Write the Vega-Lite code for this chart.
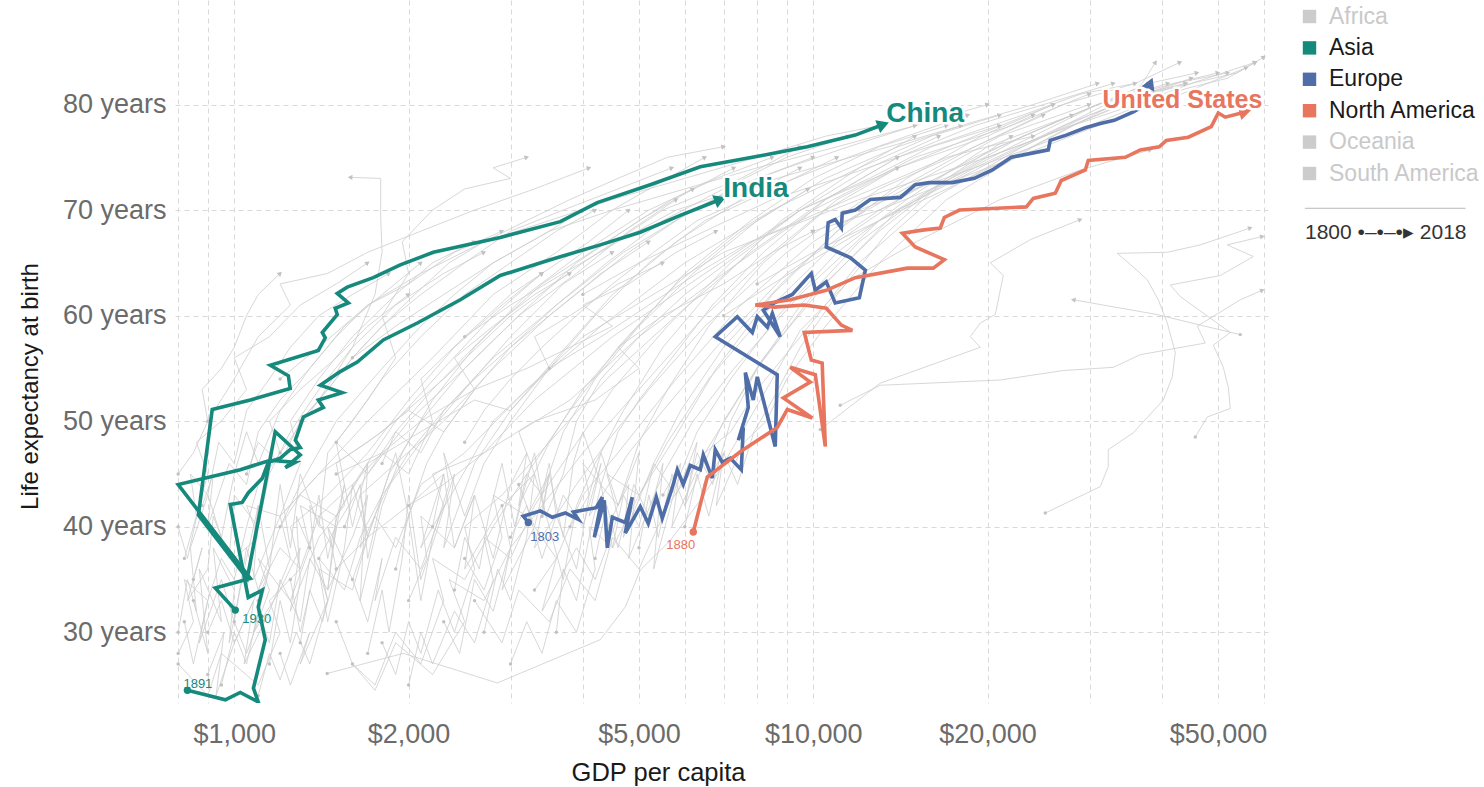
{
  "$schema": "https://vega.github.io/schema/vega-lite/v6.json",
  "width": 1093,
  "height": 703,
  "autosize": {"type": "none"},
  "padding": {"left": 175, "top": 0, "right": 216, "bottom": 84},
  "background": "white",
  "config": {
    "view": {"stroke": null},
    "font": "Liberation Sans",
    "axis": {
      "domain": false,
      "ticks": false,
      "grid": true,
      "gridColor": "#d9d9d9",
      "gridDash": [5, 4],
      "gridWidth": 1,
      "labelFont": "Liberation Sans",
      "labelFontSize": 27,
      "labelColor": "#6b6b6b",
      "titleFont": "Liberation Sans",
      "titleFontSize": 24,
      "titleFontWeight": "normal",
      "titleColor": "#1a1a1a"
    }
  },
  "title": {
    "text": "───────────────────",
    "subtitle": "1800 •–•–•▸ 2018",
    "orient": "top",
    "anchor": "start",
    "frame": "group",
    "font": "DejaVu Sans",
    "fontSize": 14,
    "fontWeight": "normal",
    "color": "#c8c8c8",
    "subtitleFont": "Liberation Sans",
    "subtitleFontSize": 21,
    "subtitleColor": "#333333",
    "subtitlePadding": 6,
    "offset": 0,
    "dx": 1130,
    "dy": 243
  },
  "resolve": {"legend": {"color": "independent"}},
  "datasets": {
    "gray": [
      {"country":"N1","year":1800,"gdp":820,"life":31},{"country":"N1","year":1810,"gdp":850,"life":27},{"country":"N1","year":1820,"gdp":900,"life":33},{"country":"N1","year":1830,"gdp":870,"life":29},{"country":"N1","year":1840,"gdp":950,"life":35},{"country":"N1","year":1850,"gdp":1000,"life":31},{"country":"N1","year":1860,"gdp":1050,"life":38},{"country":"N1","year":1870,"gdp":1100,"life":34},{"country":"N1","year":1880,"gdp":1200,"life":40},{"country":"N1","year":1890,"gdp":1300,"life":44},{"country":"N1","year":1900,"gdp":1500,"life":50},{"country":"N1","year":1910,"gdp":1800,"life":55},{"country":"N1","year":1920,"gdp":2100,"life":59},{"country":"N1","year":1930,"gdp":2400,"life":62},{"country":"N1","year":1940,"gdp":2800,"life":65},{"country":"N1","year":1950,"gdp":3500,"life":68},{"country":"N1","year":1960,"gdp":4000,"life":70},
      {"country":"N2","year":1800,"gdp":900,"life":26},{"country":"N2","year":1810,"gdp":960,"life":30},{"country":"N2","year":1820,"gdp":930,"life":24},{"country":"N2","year":1830,"gdp":1000,"life":29},{"country":"N2","year":1840,"gdp":1080,"life":33},{"country":"N2","year":1850,"gdp":1040,"life":27},{"country":"N2","year":1860,"gdp":1150,"life":32},{"country":"N2","year":1870,"gdp":1250,"life":37},{"country":"N2","year":1880,"gdp":1200,"life":41},{"country":"N2","year":1890,"gdp":1400,"life":45},{"country":"N2","year":1900,"gdp":1700,"life":50},{"country":"N2","year":1910,"gdp":2200,"life":56},{"country":"N2","year":1920,"gdp":2800,"life":62},{"country":"N2","year":1930,"gdp":3600,"life":66},{"country":"N2","year":1940,"gdp":4500,"life":70},{"country":"N2","year":1950,"gdp":5600,"life":73},{"country":"N2","year":1960,"gdp":6500,"life":75},
      {"country":"N3","year":1800,"gdp":1100,"life":33},{"country":"N3","year":1810,"gdp":1150,"life":36},{"country":"N3","year":1820,"gdp":1080,"life":30},{"country":"N3","year":1830,"gdp":1200,"life":34},{"country":"N3","year":1840,"gdp":1300,"life":38},{"country":"N3","year":1850,"gdp":1250,"life":32},{"country":"N3","year":1860,"gdp":1400,"life":39},{"country":"N3","year":1870,"gdp":1550,"life":42},{"country":"N3","year":1880,"gdp":1500,"life":46},{"country":"N3","year":1890,"gdp":1800,"life":49},{"country":"N3","year":1900,"gdp":2300,"life":54},{"country":"N3","year":1910,"gdp":3000,"life":60},{"country":"N3","year":1920,"gdp":4000,"life":65},{"country":"N3","year":1930,"gdp":5500,"life":70},{"country":"N3","year":1940,"gdp":7500,"life":73},{"country":"N3","year":1950,"gdp":9500,"life":76},
      {"country":"N4","year":1800,"gdp":1300,"life":29},{"country":"N4","year":1810,"gdp":1350,"life":34},{"country":"N4","year":1820,"gdp":1420,"life":31},{"country":"N4","year":1830,"gdp":1500,"life":36},{"country":"N4","year":1840,"gdp":1450,"life":40},{"country":"N4","year":1850,"gdp":1600,"life":35},{"country":"N4","year":1860,"gdp":1750,"life":41},{"country":"N4","year":1870,"gdp":1900,"life":38},{"country":"N4","year":1880,"gdp":2100,"life":44},{"country":"N4","year":1890,"gdp":2500,"life":47},{"country":"N4","year":1900,"gdp":3200,"life":53},{"country":"N4","year":1910,"gdp":4300,"life":59},{"country":"N4","year":1920,"gdp":6000,"life":65},{"country":"N4","year":1930,"gdp":8500,"life":70},{"country":"N4","year":1940,"gdp":12000,"life":74},{"country":"N4","year":1950,"gdp":15000,"life":77},
      {"country":"N5","year":1800,"gdp":1600,"life":35},{"country":"N5","year":1810,"gdp":1700,"life":31},{"country":"N5","year":1820,"gdp":1800,"life":37},{"country":"N5","year":1830,"gdp":1750,"life":33},{"country":"N5","year":1840,"gdp":1900,"life":39},{"country":"N5","year":1850,"gdp":2100,"life":36},{"country":"N5","year":1860,"gdp":2300,"life":42},{"country":"N5","year":1870,"gdp":2200,"life":45},{"country":"N5","year":1880,"gdp":2700,"life":47},{"country":"N5","year":1890,"gdp":3300,"life":52},{"country":"N5","year":1900,"gdp":4500,"life":58},{"country":"N5","year":1910,"gdp":6500,"life":64},{"country":"N5","year":1920,"gdp":9500,"life":70},{"country":"N5","year":1930,"gdp":14000,"life":74},{"country":"N5","year":1940,"gdp":20000,"life":77},{"country":"N5","year":1950,"gdp":24000,"life":79},
      {"country":"N6","year":1800,"gdp":2000,"life":33},{"country":"N6","year":1810,"gdp":2150,"life":37},{"country":"N6","year":1820,"gdp":2100,"life":41},{"country":"N6","year":1830,"gdp":2400,"life":38},{"country":"N6","year":1840,"gdp":2600,"life":43},{"country":"N6","year":1850,"gdp":2500,"life":36},{"country":"N6","year":1860,"gdp":2900,"life":42},{"country":"N6","year":1870,"gdp":3300,"life":45},{"country":"N6","year":1880,"gdp":3100,"life":49},{"country":"N6","year":1890,"gdp":3800,"life":52},{"country":"N6","year":1900,"gdp":5000,"life":58},{"country":"N6","year":1910,"gdp":7000,"life":64},{"country":"N6","year":1920,"gdp":10000,"life":70},{"country":"N6","year":1930,"gdp":15000,"life":75},{"country":"N6","year":1940,"gdp":22000,"life":78},{"country":"N6","year":1950,"gdp":30000,"life":81},
      {"country":"N7","year":1800,"gdp":2500,"life":37},{"country":"N7","year":1810,"gdp":2700,"life":34},{"country":"N7","year":1820,"gdp":2900,"life":39},{"country":"N7","year":1830,"gdp":2800,"life":43},{"country":"N7","year":1840,"gdp":3200,"life":41},{"country":"N7","year":1850,"gdp":3500,"life":45},{"country":"N7","year":1860,"gdp":3300,"life":38},{"country":"N7","year":1870,"gdp":3900,"life":44},{"country":"N7","year":1880,"gdp":4400,"life":48},{"country":"N7","year":1890,"gdp":5200,"life":53},{"country":"N7","year":1900,"gdp":6500,"life":59},{"country":"N7","year":1910,"gdp":9000,"life":66},{"country":"N7","year":1920,"gdp":13000,"life":72},{"country":"N7","year":1930,"gdp":19000,"life":76},{"country":"N7","year":1940,"gdp":27000,"life":80},{"country":"N7","year":1950,"gdp":36000,"life":82},
      {"country":"N8","year":1800,"gdp":3000,"life":39},{"country":"N8","year":1810,"gdp":3200,"life":42},{"country":"N8","year":1820,"gdp":3400,"life":37},{"country":"N8","year":1830,"gdp":3700,"life":43},{"country":"N8","year":1840,"gdp":4000,"life":40},{"country":"N8","year":1850,"gdp":4300,"life":46},{"country":"N8","year":1860,"gdp":4100,"life":41},{"country":"N8","year":1870,"gdp":4800,"life":47},{"country":"N8","year":1880,"gdp":5500,"life":51},{"country":"N8","year":1890,"gdp":6800,"life":57},{"country":"N8","year":1900,"gdp":9000,"life":64},{"country":"N8","year":1910,"gdp":13000,"life":70},{"country":"N8","year":1920,"gdp":19000,"life":75},{"country":"N8","year":1930,"gdp":28000,"life":79},{"country":"N8","year":1940,"gdp":38000,"life":82},{"country":"N8","year":1950,"gdp":46000,"life":83},
      {"country":"N9","year":1800,"gdp":3800,"life":40},{"country":"N9","year":1810,"gdp":4100,"life":43},{"country":"N9","year":1820,"gdp":4000,"life":46},{"country":"N9","year":1830,"gdp":4600,"life":42},{"country":"N9","year":1840,"gdp":5000,"life":47},{"country":"N9","year":1850,"gdp":4800,"life":37},{"country":"N9","year":1860,"gdp":5500,"life":45},{"country":"N9","year":1870,"gdp":6200,"life":50},{"country":"N9","year":1880,"gdp":7300,"life":55},{"country":"N9","year":1890,"gdp":9500,"life":62},{"country":"N9","year":1900,"gdp":13000,"life":69},{"country":"N9","year":1910,"gdp":19000,"life":74},{"country":"N9","year":1920,"gdp":27000,"life":78},{"country":"N9","year":1930,"gdp":37000,"life":81},{"country":"N9","year":1940,"gdp":44000,"life":82},
      {"country":"N10","year":1800,"gdp":4500,"life":41},{"country":"N10","year":1810,"gdp":4800,"life":44},{"country":"N10","year":1820,"gdp":4700,"life":39},{"country":"N10","year":1830,"gdp":5300,"life":46},{"country":"N10","year":1840,"gdp":5800,"life":43},{"country":"N10","year":1850,"gdp":6300,"life":48},{"country":"N10","year":1860,"gdp":6000,"life":42},{"country":"N10","year":1870,"gdp":7000,"life":50},{"country":"N10","year":1880,"gdp":8200,"life":56},{"country":"N10","year":1890,"gdp":10500,"life":63},{"country":"N10","year":1900,"gdp":14000,"life":70},{"country":"N10","year":1910,"gdp":21000,"life":75},{"country":"N10","year":1920,"gdp":30000,"life":79},{"country":"N10","year":1930,"gdp":42000,"life":82},{"country":"N10","year":1940,"gdp":52000,"life":83},
      {"country":"N11","year":1800,"gdp":5500,"life":43},{"country":"N11","year":1810,"gdp":5900,"life":46},{"country":"N11","year":1820,"gdp":5700,"life":40},{"country":"N11","year":1830,"gdp":6500,"life":47},{"country":"N11","year":1840,"gdp":7200,"life":49},{"country":"N11","year":1850,"gdp":8000,"life":53},{"country":"N11","year":1860,"gdp":9500,"life":58},{"country":"N11","year":1870,"gdp":12000,"life":65},{"country":"N11","year":1880,"gdp":16000,"life":71},{"country":"N11","year":1890,"gdp":23000,"life":76},{"country":"N11","year":1900,"gdp":32000,"life":80},{"country":"N11","year":1910,"gdp":45000,"life":82},{"country":"N11","year":1920,"gdp":58000,"life":84},
      {"country":"N12","year":1800,"gdp":850,"life":35},{"country":"N12","year":1810,"gdp":880,"life":38},{"country":"N12","year":1820,"gdp":830,"life":33},{"country":"N12","year":1830,"gdp":900,"life":36},{"country":"N12","year":1840,"gdp":920,"life":41},{"country":"N12","year":1850,"gdp":980,"life":37},{"country":"N12","year":1860,"gdp":1000,"life":43},{"country":"N12","year":1870,"gdp":1100,"life":40},{"country":"N12","year":1880,"gdp":1150,"life":45},{"country":"N12","year":1890,"gdp":1250,"life":49},{"country":"N12","year":1900,"gdp":1400,"life":53},{"country":"N12","year":1910,"gdp":1600,"life":57},{"country":"N12","year":1920,"gdp":1900,"life":61},{"country":"N12","year":1930,"gdp":2300,"life":64},{"country":"N12","year":1940,"gdp":2700,"life":66},
      {"country":"N13","year":1800,"gdp":800,"life":40},{"country":"N13","year":1810,"gdp":830,"life":37},{"country":"N13","year":1820,"gdp":870,"life":42},{"country":"N13","year":1830,"gdp":900,"life":45},{"country":"N13","year":1840,"gdp":860,"life":48},{"country":"N13","year":1850,"gdp":950,"life":50},{"country":"N13","year":1860,"gdp":1050,"life":53},{"country":"N13","year":1870,"gdp":1000,"life":56},{"country":"N13","year":1880,"gdp":1150,"life":58},{"country":"N13","year":1890,"gdp":1300,"life":61},{"country":"N13","year":1900,"gdp":1500,"life":63},{"country":"N13","year":1910,"gdp":1700,"life":65},
      {"country":"N14","year":1800,"gdp":1200,"life":28},{"country":"N14","year":1810,"gdp":1250,"life":25},{"country":"N14","year":1820,"gdp":1350,"life":30},{"country":"N14","year":1830,"gdp":1300,"life":27},{"country":"N14","year":1840,"gdp":1450,"life":33},{"country":"N14","year":1850,"gdp":1400,"life":36},{"country":"N14","year":1860,"gdp":1600,"life":34},{"country":"N14","year":1870,"gdp":1700,"life":39},{"country":"N14","year":1880,"gdp":1650,"life":43},{"country":"N14","year":1890,"gdp":1900,"life":46},{"country":"N14","year":1900,"gdp":2300,"life":50},{"country":"N14","year":1910,"gdp":2800,"life":55},{"country":"N14","year":1920,"gdp":3500,"life":60},{"country":"N14","year":1930,"gdp":4300,"life":64},{"country":"N14","year":1940,"gdp":5200,"life":67},
      {"country":"N15","year":1800,"gdp":1800,"life":29},{"country":"N15","year":1810,"gdp":1900,"life":26},{"country":"N15","year":1820,"gdp":2000,"life":31},{"country":"N15","year":1830,"gdp":2100,"life":28},{"country":"N15","year":1840,"gdp":2250,"life":34},{"country":"N15","year":1850,"gdp":2400,"life":30},{"country":"N15","year":1860,"gdp":2600,"life":36},{"country":"N15","year":1870,"gdp":2500,"life":40},{"country":"N15","year":1880,"gdp":2900,"life":43},{"country":"N15","year":1890,"gdp":3500,"life":48},{"country":"N15","year":1900,"gdp":4400,"life":54},{"country":"N15","year":1910,"gdp":5800,"life":60},{"country":"N15","year":1920,"gdp":7800,"life":66},{"country":"N15","year":1930,"gdp":10500,"life":71},{"country":"N15","year":1940,"gdp":14000,"life":75},
      {"country":"N16","year":1800,"gdp":2300,"life":31},{"country":"N16","year":1810,"gdp":2450,"life":28},{"country":"N16","year":1820,"gdp":2600,"life":35},{"country":"N16","year":1830,"gdp":2800,"life":32},{"country":"N16","year":1840,"gdp":3000,"life":38},{"country":"N16","year":1850,"gdp":2900,"life":34},{"country":"N16","year":1860,"gdp":3300,"life":40},{"country":"N16","year":1870,"gdp":3600,"life":37},{"country":"N16","year":1880,"gdp":4000,"life":43},{"country":"N16","year":1890,"gdp":4600,"life":47},{"country":"N16","year":1900,"gdp":5800,"life":54},{"country":"N16","year":1910,"gdp":7500,"life":61},{"country":"N16","year":1920,"gdp":10000,"life":67},{"country":"N16","year":1930,"gdp":14000,"life":72},{"country":"N16","year":1940,"gdp":19000,"life":76},{"country":"N16","year":1950,"gdp":25000,"life":79},
      {"country":"N17","year":1800,"gdp":1000,"life":31},{"country":"N17","year":1810,"gdp":1050,"life":28},{"country":"N17","year":1820,"gdp":1150,"life":34},{"country":"N17","year":1830,"gdp":1100,"life":37},{"country":"N17","year":1840,"gdp":1250,"life":33},{"country":"N17","year":1850,"gdp":1350,"life":38},{"country":"N17","year":1860,"gdp":1300,"life":42},{"country":"N17","year":1870,"gdp":1500,"life":40},{"country":"N17","year":1880,"gdp":1700,"life":45},{"country":"N17","year":1890,"gdp":2000,"life":50},{"country":"N17","year":1900,"gdp":2500,"life":55},{"country":"N17","year":1910,"gdp":3100,"life":60},{"country":"N17","year":1920,"gdp":3900,"life":64},{"country":"N17","year":1930,"gdp":4800,"life":68},{"country":"N17","year":1940,"gdp":5800,"life":71},
      {"country":"N18","year":1800,"gdp":1400,"life":37},{"country":"N18","year":1810,"gdp":1500,"life":40},{"country":"N18","year":1820,"gdp":1450,"life":34},{"country":"N18","year":1830,"gdp":1600,"life":39},{"country":"N18","year":1840,"gdp":1700,"life":43},{"country":"N18","year":1850,"gdp":1650,"life":38},{"country":"N18","year":1860,"gdp":1850,"life":44},{"country":"N18","year":1870,"gdp":2000,"life":47},{"country":"N18","year":1880,"gdp":2300,"life":51},{"country":"N18","year":1890,"gdp":2800,"life":56},{"country":"N18","year":1900,"gdp":3600,"life":61},{"country":"N18","year":1910,"gdp":4700,"life":66},{"country":"N18","year":1920,"gdp":6200,"life":70},{"country":"N18","year":1930,"gdp":8000,"life":73},{"country":"N18","year":1940,"gdp":10000,"life":75},
      {"country":"N19","year":1800,"gdp":3300,"life":34},{"country":"N19","year":1810,"gdp":3600,"life":37},{"country":"N19","year":1820,"gdp":3400,"life":32},{"country":"N19","year":1830,"gdp":3900,"life":38},{"country":"N19","year":1840,"gdp":4200,"life":35},{"country":"N19","year":1850,"gdp":4600,"life":41},{"country":"N19","year":1860,"gdp":4400,"life":45},{"country":"N19","year":1870,"gdp":5000,"life":43},{"country":"N19","year":1880,"gdp":5600,"life":48},{"country":"N19","year":1890,"gdp":6600,"life":54},{"country":"N19","year":1900,"gdp":8500,"life":61},{"country":"N19","year":1910,"gdp":11000,"life":67},{"country":"N19","year":1920,"gdp":15000,"life":72},{"country":"N19","year":1930,"gdp":21000,"life":76},{"country":"N19","year":1940,"gdp":28000,"life":79},
      {"country":"N20","year":1800,"gdp":6500,"life":44},{"country":"N20","year":1810,"gdp":7000,"life":47},{"country":"N20","year":1820,"gdp":6800,"life":42},{"country":"N20","year":1830,"gdp":7600,"life":48},{"country":"N20","year":1840,"gdp":8300,"life":50},{"country":"N20","year":1850,"gdp":9000,"life":54},{"country":"N20","year":1860,"gdp":10500,"life":59},{"country":"N20","year":1870,"gdp":13000,"life":65},{"country":"N20","year":1880,"gdp":17000,"life":71},{"country":"N20","year":1890,"gdp":24000,"life":76},{"country":"N20","year":1900,"gdp":33000,"life":80},{"country":"N20","year":1910,"gdp":44000,"life":82},
      {"country":"A1","year":1800,"gdp":800,"life":28},{"country":"A1","year":1810,"gdp":850,"life":31},{"country":"A1","year":1820,"gdp":820,"life":35},{"country":"A1","year":1830,"gdp":900,"life":33},{"country":"A1","year":1840,"gdp":950,"life":37},{"country":"A1","year":1850,"gdp":1000,"life":35},{"country":"A1","year":1860,"gdp":1050,"life":40},{"country":"A1","year":1870,"gdp":1100,"life":44},{"country":"A1","year":1880,"gdp":1200,"life":47},{"country":"A1","year":1890,"gdp":1150,"life":50},{"country":"A1","year":1900,"gdp":1300,"life":53},{"country":"A1","year":1910,"gdp":1500,"life":56},{"country":"A1","year":1920,"gdp":1700,"life":59},{"country":"A1","year":1930,"gdp":2000,"life":62},
      {"country":"A2","year":1800,"gdp":900,"life":30},{"country":"A2","year":1810,"gdp":950,"life":33},{"country":"A2","year":1820,"gdp":1000,"life":29},{"country":"A2","year":1830,"gdp":1100,"life":34},{"country":"A2","year":1840,"gdp":1200,"life":38},{"country":"A2","year":1850,"gdp":1300,"life":36},{"country":"A2","year":1860,"gdp":1400,"life":41},{"country":"A2","year":1870,"gdp":1600,"life":44},{"country":"A2","year":1880,"gdp":1800,"life":47},{"country":"A2","year":1890,"gdp":2000,"life":45},{"country":"A2","year":1900,"gdp":2200,"life":50},{"country":"A2","year":1910,"gdp":2100,"life":54},{"country":"A2","year":1920,"gdp":2500,"life":58},{"country":"A2","year":1930,"gdp":3000,"life":62},{"country":"A2","year":1940,"gdp":3400,"life":64},
      {"country":"A3","year":1800,"gdp":1000,"life":37},{"country":"A3","year":1810,"gdp":1100,"life":39},{"country":"A3","year":1820,"gdp":1050,"life":42},{"country":"A3","year":1830,"gdp":1200,"life":41},{"country":"A3","year":1840,"gdp":1400,"life":45},{"country":"A3","year":1850,"gdp":1700,"life":48},{"country":"A3","year":1860,"gdp":2000,"life":51},{"country":"A3","year":1870,"gdp":2300,"life":49},{"country":"A3","year":1880,"gdp":2600,"life":53},{"country":"A3","year":1890,"gdp":2400,"life":56},{"country":"A3","year":1900,"gdp":2800,"life":59},{"country":"A3","year":1910,"gdp":3300,"life":62},{"country":"A3","year":1920,"gdp":3800,"life":64},
      {"country":"A4","year":1800,"gdp":1200,"life":40},{"country":"A4","year":1810,"gdp":1300,"life":43},{"country":"A4","year":1820,"gdp":1500,"life":41},{"country":"A4","year":1830,"gdp":1700,"life":46},{"country":"A4","year":1840,"gdp":2100,"life":49},{"country":"A4","year":1850,"gdp":2600,"life":52},{"country":"A4","year":1860,"gdp":3000,"life":51},{"country":"A4","year":1870,"gdp":3500,"life":55},{"country":"A4","year":1880,"gdp":3300,"life":58},{"country":"A4","year":1890,"gdp":3800,"life":60},{"country":"A4","year":1900,"gdp":4600,"life":63},{"country":"A4","year":1910,"gdp":5500,"life":65},
      {"country":"A5","year":1800,"gdp":1500,"life":45},{"country":"A5","year":1810,"gdp":1800,"life":47},{"country":"A5","year":1820,"gdp":2100,"life":50},{"country":"A5","year":1830,"gdp":2600,"life":53},{"country":"A5","year":1840,"gdp":3200,"life":55},{"country":"A5","year":1850,"gdp":3800,"life":57},{"country":"A5","year":1860,"gdp":4500,"life":59},{"country":"A5","year":1870,"gdp":4000,"life":61},{"country":"A5","year":1880,"gdp":4800,"life":63},{"country":"A5","year":1890,"gdp":5800,"life":66},{"country":"A5","year":1900,"gdp":6800,"life":68},
      {"country":"A6","year":1800,"gdp":800,"life":45},{"country":"A6","year":1810,"gdp":850,"life":47},{"country":"A6","year":1820,"gdp":900,"life":50},{"country":"A6","year":1830,"gdp":880,"life":53},{"country":"A6","year":1840,"gdp":950,"life":55},{"country":"A6","year":1850,"gdp":1000,"life":57},{"country":"A6","year":1860,"gdp":1050,"life":60},{"country":"A6","year":1870,"gdp":1100,"life":62},{"country":"A6","year":1880,"gdp":1200,"life":64},
      {"country":"A7","year":1800,"gdp":2000,"life":42},{"country":"A7","year":1810,"gdp":2300,"life":44},{"country":"A7","year":1820,"gdp":2700,"life":47},{"country":"A7","year":1830,"gdp":3300,"life":50},{"country":"A7","year":1840,"gdp":4200,"life":52},{"country":"A7","year":1850,"gdp":5000,"life":55},{"country":"A7","year":1860,"gdp":4600,"life":57},{"country":"A7","year":1870,"gdp":5500,"life":60},{"country":"A7","year":1880,"gdp":7000,"life":63},{"country":"A7","year":1890,"gdp":8500,"life":66},{"country":"A7","year":1900,"gdp":10000,"life":68},
      {"country":"U1","year":1800,"gdp":900,"life":50},{"country":"U1","year":1810,"gdp":1000,"life":54},{"country":"U1","year":1820,"gdp":1100,"life":58},{"country":"U1","year":1830,"gdp":1250,"life":61},{"country":"U1","year":1840,"gdp":1200,"life":63},{"country":"U1","year":1850,"gdp":1450,"life":64},{"country":"U1","year":1860,"gdp":1700,"life":66},{"country":"U1","year":1870,"gdp":2100,"life":68},{"country":"U1","year":1880,"gdp":2600,"life":70},{"country":"U1","year":1890,"gdp":3300,"life":72},{"country":"U1","year":1900,"gdp":4100,"life":74},
      {"country":"U2","year":1800,"gdp":1200,"life":54},{"country":"U2","year":1810,"gdp":1400,"life":57},{"country":"U2","year":1820,"gdp":1700,"life":61},{"country":"U2","year":1830,"gdp":2100,"life":64},{"country":"U2","year":1840,"gdp":2700,"life":67},{"country":"U2","year":1850,"gdp":3500,"life":69},{"country":"U2","year":1860,"gdp":4500,"life":71},{"country":"U2","year":1870,"gdp":6000,"life":73},{"country":"U2","year":1880,"gdp":8000,"life":75},{"country":"U2","year":1890,"gdp":10500,"life":77},{"country":"U2","year":1900,"gdp":13000,"life":78},
      {"country":"U3","year":1800,"gdp":1600,"life":56},{"country":"U3","year":1810,"gdp":1900,"life":59},{"country":"U3","year":1820,"gdp":2300,"life":62},{"country":"U3","year":1830,"gdp":2800,"life":65},{"country":"U3","year":1840,"gdp":3500,"life":68},{"country":"U3","year":1850,"gdp":4500,"life":70},{"country":"U3","year":1860,"gdp":6000,"life":72},{"country":"U3","year":1870,"gdp":8000,"life":74},{"country":"U3","year":1880,"gdp":11000,"life":76},{"country":"U3","year":1890,"gdp":15000,"life":78},{"country":"U3","year":1900,"gdp":20000,"life":80},
      {"country":"U4","year":1800,"gdp":2500,"life":58},{"country":"U4","year":1810,"gdp":3000,"life":61},{"country":"U4","year":1820,"gdp":3700,"life":64},{"country":"U4","year":1830,"gdp":4600,"life":67},{"country":"U4","year":1840,"gdp":5800,"life":70},{"country":"U4","year":1850,"gdp":7500,"life":72},{"country":"U4","year":1860,"gdp":10000,"life":74},{"country":"U4","year":1870,"gdp":13500,"life":76},{"country":"U4","year":1880,"gdp":18000,"life":78},{"country":"U4","year":1890,"gdp":24000,"life":80},{"country":"U4","year":1900,"gdp":31000,"life":82},
      {"country":"U5","year":1800,"gdp":1500,"life":48},{"country":"U5","year":1810,"gdp":1700,"life":52},{"country":"U5","year":1820,"gdp":1900,"life":56},{"country":"U5","year":1830,"gdp":1800,"life":60},{"country":"U5","year":1840,"gdp":2000,"life":64},{"country":"U5","year":1850,"gdp":1950,"life":67},{"country":"U5","year":1860,"gdp":2200,"life":70},{"country":"U5","year":1870,"gdp":2500,"life":72},{"country":"U5","year":1880,"gdp":3000,"life":73},{"country":"U5","year":1890,"gdp":2800,"life":74},{"country":"U5","year":1900,"gdp":3200,"life":75},
      {"country":"C1","year":1800,"gdp":1200,"life":47},{"country":"C1","year":1810,"gdp":1400,"life":52},{"country":"C1","year":1820,"gdp":1600,"life":57},{"country":"C1","year":1830,"gdp":1750,"life":62},{"country":"C1","year":1840,"gdp":1800,"life":66},{"country":"C1","year":1850,"gdp":1790,"life":69.3},{"country":"C1","year":1860,"gdp":1790,"life":73},{"country":"C1","year":1870,"gdp":1585,"life":73.1},
      {"country":"U6","year":1800,"gdp":4000,"life":62},{"country":"U6","year":1810,"gdp":5000,"life":65},{"country":"U6","year":1820,"gdp":6500,"life":68},{"country":"U6","year":1830,"gdp":8500,"life":71},{"country":"U6","year":1840,"gdp":11000,"life":73},{"country":"U6","year":1850,"gdp":14000,"life":75},{"country":"U6","year":1860,"gdp":18000,"life":77},{"country":"U6","year":1870,"gdp":23000,"life":79},{"country":"U6","year":1880,"gdp":29000,"life":81},{"country":"U6","year":1890,"gdp":36000,"life":82},{"country":"U6","year":1900,"gdp":43000,"life":84},
      {"country":"U7","year":1800,"gdp":3500,"life":55},{"country":"U7","year":1810,"gdp":4300,"life":58},{"country":"U7","year":1820,"gdp":5200,"life":61},{"country":"U7","year":1830,"gdp":6300,"life":64},{"country":"U7","year":1840,"gdp":7800,"life":67},{"country":"U7","year":1850,"gdp":9500,"life":69},{"country":"U7","year":1860,"gdp":11500,"life":71},{"country":"U7","year":1870,"gdp":14000,"life":73},{"country":"U7","year":1880,"gdp":17000,"life":75},{"country":"U7","year":1890,"gdp":20000,"life":76},{"country":"U7","year":1900,"gdp":24000,"life":77},
      {"country":"H1","year":1800,"gdp":8000,"life":63},{"country":"H1","year":1810,"gdp":10000,"life":66},{"country":"H1","year":1820,"gdp":13000,"life":69},{"country":"H1","year":1830,"gdp":17000,"life":72},{"country":"H1","year":1840,"gdp":22000,"life":75},{"country":"H1","year":1850,"gdp":28000,"life":78},{"country":"H1","year":1860,"gdp":36000,"life":80},{"country":"H1","year":1870,"gdp":45000,"life":82},{"country":"H1","year":1880,"gdp":54000,"life":83},{"country":"H1","year":1890,"gdp":60000,"life":84.5},
      {"country":"H2","year":1800,"gdp":10000,"life":68},{"country":"H2","year":1810,"gdp":13000,"life":70},{"country":"H2","year":1820,"gdp":16000,"life":72},{"country":"H2","year":1830,"gdp":20000,"life":74},{"country":"H2","year":1840,"gdp":25000,"life":76},{"country":"H2","year":1850,"gdp":31000,"life":78},{"country":"H2","year":1860,"gdp":39000,"life":80},{"country":"H2","year":1870,"gdp":48000,"life":82},{"country":"H2","year":1880,"gdp":56000,"life":83.5},
      {"country":"H3","year":1800,"gdp":7000,"life":60},{"country":"H3","year":1810,"gdp":8500,"life":63},{"country":"H3","year":1820,"gdp":10500,"life":66},{"country":"H3","year":1830,"gdp":13000,"life":69},{"country":"H3","year":1840,"gdp":16000,"life":72},{"country":"H3","year":1850,"gdp":20000,"life":75},{"country":"H3","year":1860,"gdp":25000,"life":77},{"country":"H3","year":1870,"gdp":31000,"life":79},{"country":"H3","year":1880,"gdp":38000,"life":81},{"country":"H3","year":1890,"gdp":45000,"life":82.5},
      {"country":"H4","year":1800,"gdp":12000,"life":70},{"country":"H4","year":1810,"gdp":15000,"life":72},{"country":"H4","year":1820,"gdp":19000,"life":74},{"country":"H4","year":1830,"gdp":24000,"life":76},{"country":"H4","year":1840,"gdp":30000,"life":78},{"country":"H4","year":1850,"gdp":37000,"life":80},{"country":"H4","year":1860,"gdp":44000,"life":81.5},{"country":"H4","year":1870,"gdp":52000,"life":82.5},{"country":"H4","year":1880,"gdp":58000,"life":84},
      {"country":"H5","year":1800,"gdp":1500,"life":36},{"country":"H5","year":1810,"gdp":1700,"life":39},{"country":"H5","year":1820,"gdp":2000,"life":42},{"country":"H5","year":1830,"gdp":2300,"life":45},{"country":"H5","year":1840,"gdp":2100,"life":38},{"country":"H5","year":1850,"gdp":2800,"life":50},{"country":"H5","year":1860,"gdp":4000,"life":58},{"country":"H5","year":1870,"gdp":7000,"life":66},{"country":"H5","year":1880,"gdp":12000,"life":71},{"country":"H5","year":1890,"gdp":20000,"life":75},{"country":"H5","year":1900,"gdp":28000,"life":78},{"country":"H5","year":1910,"gdp":34000,"life":80},{"country":"H5","year":1920,"gdp":37000,"life":82},{"country":"H5","year":1930,"gdp":39000,"life":84},
      {"country":"R1","year":1800,"gdp":25160,"life":41.3},{"country":"R1","year":1810,"gdp":27460,"life":42.3},{"country":"R1","year":1820,"gdp":31310,"life":43.8},{"country":"R1","year":1830,"gdp":32320,"life":45.7},{"country":"R1","year":1840,"gdp":32320,"life":47.3},{"country":"R1","year":1850,"gdp":35700,"life":48.9},{"country":"R1","year":1860,"gdp":40220,"life":52.0},{"country":"R1","year":1870,"gdp":41690,"life":54.2},{"country":"R1","year":1880,"gdp":42190,"life":56.5},{"country":"R1","year":1890,"gdp":40870,"life":59.3},{"country":"R1","year":1900,"gdp":39430,"life":61.5},{"country":"R1","year":1910,"gdp":37740,"life":63.4},{"country":"R1","year":1920,"gdp":35700,"life":64.6},{"country":"R1","year":1930,"gdp":33500,"life":65.9},{"country":"R1","year":1940,"gdp":40870,"life":66.0},{"country":"R1","year":1950,"gdp":46610,"life":66.7},{"country":"R1","year":1960,"gdp":56860,"life":68.3},
      {"country":"R2","year":1800,"gdp":45680,"life":48.5},{"country":"R2","year":1810,"gdp":47910,"life":50.4},{"country":"R2","year":1820,"gdp":52510,"life":51.2},{"country":"R2","year":1830,"gdp":52100,"life":53.2},{"country":"R2","year":1840,"gdp":51070,"life":55.1},{"country":"R2","year":1850,"gdp":49080,"life":57.2},{"country":"R2","year":1860,"gdp":52510,"life":58.4},{"country":"R2","year":1870,"gdp":43040,"life":61.8},{"country":"R2","year":1880,"gdp":41360,"life":62.9},{"country":"R2","year":1890,"gdp":50470,"life":63.8},{"country":"R2","year":1900,"gdp":57540,"life":65.6},{"country":"R2","year":1910,"gdp":51880,"life":66.7},{"country":"R2","year":1920,"gdp":59640,"life":67.5},
      {"country":"R3","year":1800,"gdp":11130,"life":51.5},{"country":"R3","year":1810,"gdp":13050,"life":53.4},{"country":"R3","year":1820,"gdp":21030,"life":53.9},{"country":"R3","year":1830,"gdp":27030,"life":54.8},{"country":"R3","year":1840,"gdp":32970,"life":55.1},{"country":"R3","year":1850,"gdp":36710,"life":56.3},{"country":"R3","year":1860,"gdp":47530,"life":57.4},{"country":"R3","year":1870,"gdp":46050,"life":59.0},{"country":"R3","year":1880,"gdp":54630,"life":61.5},{"country":"R3","year":1890,"gdp":59640,"life":62.4},
      {"country":"R4","year":1800,"gdp":54630,"life":58.2},{"country":"R4","year":1810,"gdp":46610,"life":59.1},{"country":"R4","year":1820,"gdp":39270,"life":60.1},{"country":"R4","year":1830,"gdp":28120,"life":61.5},
      {"country":"R5","year":1800,"gdp":10280,"life":49.2},{"country":"R5","year":1810,"gdp":13050,"life":53.6},{"country":"R5","year":1820,"gdp":19430,"life":57.0},{"country":"R5","year":1830,"gdp":18670,"life":58.0},{"country":"R5","year":1840,"gdp":19430,"life":59.3},{"country":"R5","year":1850,"gdp":20620,"life":60.1},{"country":"R5","year":1860,"gdp":21290,"life":63.8},{"country":"R5","year":1870,"gdp":20220,"life":65.0},{"country":"R5","year":1880,"gdp":23710,"life":67.2},{"country":"R5","year":1890,"gdp":28920,"life":69.1},
      {"country":"B1","year":1800,"gdp":1447,"life":26.1},{"country":"B1","year":1810,"gdp":1958,"life":28.0},{"country":"B1","year":1820,"gdp":2846,"life":25.2},{"country":"B1","year":1830,"gdp":4287,"life":29.3},{"country":"B1","year":1840,"gdp":4735,"life":32.4},{"country":"B1","year":1850,"gdp":5026,"life":35.9},{"country":"B1","year":1860,"gdp":5663,"life":38.7},{"country":"B1","year":1870,"gdp":6380,"life":42.5},{"country":"B1","year":1880,"gdp":6908,"life":45.4},{"country":"B1","year":1890,"gdp":8101,"life":52.0},{"country":"B1","year":1900,"gdp":9496,"life":58.6},{"country":"B1","year":1910,"gdp":11580,"life":63.4},{"country":"B1","year":1920,"gdp":15310,"life":67.2},{"country":"B1","year":1930,"gdp":21030,"life":71.0},{"country":"B1","year":1940,"gdp":28920,"life":73.8},{"country":"B1","year":1950,"gdp":38200,"life":75.7},
      {"country":"B2","year":1800,"gdp":800,"life":27},{"country":"B2","year":1810,"gdp":900,"life":24},{"country":"B2","year":1820,"gdp":950,"life":28},{"country":"B2","year":1830,"gdp":1100,"life":25},{"country":"B2","year":1840,"gdp":1200,"life":30},{"country":"B2","year":1850,"gdp":1150,"life":33},{"country":"B2","year":1860,"gdp":1300,"life":36},{"country":"B2","year":1870,"gdp":1250,"life":40},{"country":"B2","year":1880,"gdp":1450,"life":43},{"country":"B2","year":1890,"gdp":1700,"life":47},{"country":"B2","year":1900,"gdp":2000,"life":52},{"country":"B2","year":1910,"gdp":2400,"life":57},{"country":"B2","year":1920,"gdp":2900,"life":61},{"country":"B2","year":1930,"gdp":3400,"life":64},
      {"country":"B3","year":1800,"gdp":1600,"life":27},{"country":"B3","year":1810,"gdp":1750,"life":24.5},{"country":"B3","year":1820,"gdp":1900,"life":29},{"country":"B3","year":1830,"gdp":2200,"life":26},{"country":"B3","year":1840,"gdp":2500,"life":31},{"country":"B3","year":1850,"gdp":2350,"life":35},{"country":"B3","year":1860,"gdp":2700,"life":33},{"country":"B3","year":1870,"gdp":3000,"life":38},{"country":"B3","year":1880,"gdp":3400,"life":42},{"country":"B3","year":1890,"gdp":4000,"life":47},{"country":"B3","year":1900,"gdp":5000,"life":53},{"country":"B3","year":1910,"gdp":6500,"life":60},{"country":"B3","year":1920,"gdp":8500,"life":66},{"country":"B3","year":1930,"gdp":11000,"life":71},{"country":"B3","year":1940,"gdp":14000,"life":74},
      {"country":"B4","year":1800,"gdp":2600,"life":33},{"country":"B4","year":1810,"gdp":2900,"life":29},{"country":"B4","year":1820,"gdp":3100,"life":34},{"country":"B4","year":1830,"gdp":3500,"life":31},{"country":"B4","year":1840,"gdp":3800,"life":36},{"country":"B4","year":1850,"gdp":4200,"life":33},{"country":"B4","year":1860,"gdp":4500,"life":39},{"country":"B4","year":1870,"gdp":5000,"life":36},{"country":"B4","year":1880,"gdp":5600,"life":42},{"country":"B4","year":1890,"gdp":6500,"life":47},{"country":"B4","year":1900,"gdp":8000,"life":55},{"country":"B4","year":1910,"gdp":10000,"life":62},{"country":"B4","year":1920,"gdp":13000,"life":68},{"country":"B4","year":1930,"gdp":17000,"life":73},{"country":"B4","year":1940,"gdp":22000,"life":77},
      {"country":"M1","year":1800,"gdp":850,"life":33},{"country":"M1","year":1810,"gdp":900,"life":28},{"country":"M1","year":1820,"gdp":870,"life":36},{"country":"M1","year":1830,"gdp":950,"life":31},{"country":"M1","year":1840,"gdp":920,"life":38},{"country":"M1","year":1850,"gdp":1000,"life":34},{"country":"M1","year":1860,"gdp":980,"life":29},{"country":"M1","year":1870,"gdp":1050,"life":37},{"country":"M1","year":1880,"gdp":1100,"life":42},{"country":"M1","year":1890,"gdp":1080,"life":35},{"country":"M1","year":1900,"gdp":1200,"life":41},{"country":"M1","year":1910,"gdp":1300,"life":46},{"country":"M1","year":1920,"gdp":1250,"life":50},{"country":"M1","year":1930,"gdp":1400,"life":54},{"country":"M1","year":1940,"gdp":1600,"life":58},{"country":"M1","year":1950,"gdp":1900,"life":62},{"country":"M1","year":1960,"gdp":2200,"life":65},{"country":"M1","year":1970,"gdp":2600,"life":67},
      {"country":"M2","year":1800,"gdp":1000,"life":40},{"country":"M2","year":1810,"gdp":1050,"life":34},{"country":"M2","year":1820,"gdp":1100,"life":42},{"country":"M2","year":1830,"gdp":1150,"life":36},{"country":"M2","year":1840,"gdp":1200,"life":44},{"country":"M2","year":1850,"gdp":1250,"life":38},{"country":"M2","year":1860,"gdp":1300,"life":45},{"country":"M2","year":1870,"gdp":1400,"life":40},{"country":"M2","year":1880,"gdp":1450,"life":47},{"country":"M2","year":1890,"gdp":1600,"life":50},{"country":"M2","year":1900,"gdp":1800,"life":54},{"country":"M2","year":1910,"gdp":2100,"life":58},{"country":"M2","year":1920,"gdp":2500,"life":62},{"country":"M2","year":1930,"gdp":3000,"life":65},{"country":"M2","year":1940,"gdp":3600,"life":68},{"country":"M2","year":1950,"gdp":4200,"life":70},
      {"country":"M3","year":1800,"gdp":1150,"life":27},{"country":"M3","year":1810,"gdp":1200,"life":33},{"country":"M3","year":1820,"gdp":1250,"life":29},{"country":"M3","year":1830,"gdp":1300,"life":35},{"country":"M3","year":1840,"gdp":1280,"life":41},{"country":"M3","year":1850,"gdp":1400,"life":36},{"country":"M3","year":1860,"gdp":1450,"life":31},{"country":"M3","year":1870,"gdp":1550,"life":38},{"country":"M3","year":1880,"gdp":1600,"life":44},{"country":"M3","year":1890,"gdp":1700,"life":39},{"country":"M3","year":1900,"gdp":1850,"life":45},{"country":"M3","year":1910,"gdp":2100,"life":50},{"country":"M3","year":1920,"gdp":2500,"life":55},{"country":"M3","year":1930,"gdp":3100,"life":60},{"country":"M3","year":1940,"gdp":3900,"life":65},{"country":"M3","year":1950,"gdp":5000,"life":69},{"country":"M3","year":1960,"gdp":6200,"life":72},
      {"country":"M4","year":1800,"gdp":1350,"life":38},{"country":"M4","year":1810,"gdp":1400,"life":43},{"country":"M4","year":1820,"gdp":1450,"life":37},{"country":"M4","year":1830,"gdp":1550,"life":44},{"country":"M4","year":1840,"gdp":1600,"life":40},{"country":"M4","year":1850,"gdp":1700,"life":46},{"country":"M4","year":1860,"gdp":1650,"life":33},{"country":"M4","year":1870,"gdp":1800,"life":42},{"country":"M4","year":1880,"gdp":1950,"life":47},{"country":"M4","year":1890,"gdp":2200,"life":52},{"country":"M4","year":1900,"gdp":2600,"life":57},{"country":"M4","year":1910,"gdp":3200,"life":62},{"country":"M4","year":1920,"gdp":4000,"life":66},{"country":"M4","year":1930,"gdp":5200,"life":70},{"country":"M4","year":1940,"gdp":6800,"life":73},{"country":"M4","year":1950,"gdp":8500,"life":75},
      {"country":"M5","year":1800,"gdp":1700,"life":28},{"country":"M5","year":1810,"gdp":1800,"life":34},{"country":"M5","year":1820,"gdp":1850,"life":30},{"country":"M5","year":1830,"gdp":1950,"life":37},{"country":"M5","year":1840,"gdp":2000,"life":43},{"country":"M5","year":1850,"gdp":2100,"life":35},{"country":"M5","year":1860,"gdp":2250,"life":40},{"country":"M5","year":1870,"gdp":2400,"life":45},{"country":"M5","year":1880,"gdp":2300,"life":38},{"country":"M5","year":1890,"gdp":2600,"life":46},{"country":"M5","year":1900,"gdp":3000,"life":51},{"country":"M5","year":1910,"gdp":3600,"life":56},{"country":"M5","year":1920,"gdp":4500,"life":62},{"country":"M5","year":1930,"gdp":5800,"life":67},{"country":"M5","year":1940,"gdp":7500,"life":71},{"country":"M5","year":1950,"gdp":9500,"life":74},
      {"country":"M6","year":1800,"gdp":1900,"life":36},{"country":"M6","year":1810,"gdp":2000,"life":41},{"country":"M6","year":1820,"gdp":2100,"life":33},{"country":"M6","year":1830,"gdp":2200,"life":39},{"country":"M6","year":1840,"gdp":2350,"life":44},{"country":"M6","year":1850,"gdp":2300,"life":47},{"country":"M6","year":1860,"gdp":2500,"life":41},{"country":"M6","year":1870,"gdp":2700,"life":46},{"country":"M6","year":1880,"gdp":3000,"life":50},{"country":"M6","year":1890,"gdp":3500,"life":55},{"country":"M6","year":1900,"gdp":4200,"life":60},{"country":"M6","year":1910,"gdp":5200,"life":65},{"country":"M6","year":1920,"gdp":6500,"life":69},{"country":"M6","year":1930,"gdp":8500,"life":72},{"country":"M6","year":1940,"gdp":11000,"life":75},
      {"country":"M7","year":1800,"gdp":2200,"life":40},{"country":"M7","year":1810,"gdp":2300,"life":45},{"country":"M7","year":1820,"gdp":2400,"life":38},{"country":"M7","year":1830,"gdp":2600,"life":43},{"country":"M7","year":1840,"gdp":2800,"life":37},{"country":"M7","year":1850,"gdp":3000,"life":44},{"country":"M7","year":1860,"gdp":3200,"life":47},{"country":"M7","year":1870,"gdp":3100,"life":42},{"country":"M7","year":1880,"gdp":3500,"life":48},{"country":"M7","year":1890,"gdp":4000,"life":53},{"country":"M7","year":1900,"gdp":4800,"life":58},{"country":"M7","year":1910,"gdp":6000,"life":64},{"country":"M7","year":1920,"gdp":7800,"life":69},{"country":"M7","year":1930,"gdp":10000,"life":73},{"country":"M7","year":1940,"gdp":13000,"life":76},{"country":"M7","year":1950,"gdp":17000,"life":78},
      {"country":"M8","year":1800,"gdp":2700,"life":30},{"country":"M8","year":1810,"gdp":2850,"life":36},{"country":"M8","year":1820,"gdp":3000,"life":33},{"country":"M8","year":1830,"gdp":3200,"life":39},{"country":"M8","year":1840,"gdp":3300,"life":45},{"country":"M8","year":1850,"gdp":3500,"life":40},{"country":"M8","year":1860,"gdp":3700,"life":35},{"country":"M8","year":1870,"gdp":3900,"life":42},{"country":"M8","year":1880,"gdp":4200,"life":46},{"country":"M8","year":1890,"gdp":4700,"life":51},{"country":"M8","year":1900,"gdp":5500,"life":57},{"country":"M8","year":1910,"gdp":6800,"life":63},{"country":"M8","year":1920,"gdp":8800,"life":69},{"country":"M8","year":1930,"gdp":12000,"life":74},{"country":"M8","year":1940,"gdp":16000,"life":77},{"country":"M8","year":1950,"gdp":21000,"life":79},
      {"country":"M9","year":1800,"gdp":3100,"life":44},{"country":"M9","year":1810,"gdp":3300,"life":40},{"country":"M9","year":1820,"gdp":3500,"life":46},{"country":"M9","year":1830,"gdp":3600,"life":41},{"country":"M9","year":1840,"gdp":3900,"life":36},{"country":"M9","year":1850,"gdp":4100,"life":43},{"country":"M9","year":1860,"gdp":4300,"life":47},{"country":"M9","year":1870,"gdp":4600,"life":42},{"country":"M9","year":1880,"gdp":5000,"life":48},{"country":"M9","year":1890,"gdp":5600,"life":53},{"country":"M9","year":1900,"gdp":6600,"life":59},{"country":"M9","year":1910,"gdp":8200,"life":65},{"country":"M9","year":1920,"gdp":10500,"life":70},{"country":"M9","year":1930,"gdp":14000,"life":74},{"country":"M9","year":1940,"gdp":19000,"life":77},{"country":"M9","year":1950,"gdp":26000,"life":80},
      {"country":"M10","year":1800,"gdp":3600,"life":30},{"country":"M10","year":1810,"gdp":3700,"life":36},{"country":"M10","year":1820,"gdp":3900,"life":33},{"country":"M10","year":1830,"gdp":4100,"life":39},{"country":"M10","year":1840,"gdp":4300,"life":44},{"country":"M10","year":1850,"gdp":4500,"life":38},{"country":"M10","year":1860,"gdp":4700,"life":43},{"country":"M10","year":1870,"gdp":5000,"life":40},{"country":"M10","year":1880,"gdp":5300,"life":46},{"country":"M10","year":1890,"gdp":5900,"life":51},{"country":"M10","year":1900,"gdp":7000,"life":57},{"country":"M10","year":1910,"gdp":8800,"life":63},{"country":"M10","year":1920,"gdp":11500,"life":69},{"country":"M10","year":1930,"gdp":15500,"life":73},{"country":"M10","year":1940,"gdp":21000,"life":77},{"country":"M10","year":1950,"gdp":30000,"life":80},
      {"country":"M11","year":1800,"gdp":4200,"life":37},{"country":"M11","year":1810,"gdp":4400,"life":42},{"country":"M11","year":1820,"gdp":4600,"life":38},{"country":"M11","year":1830,"gdp":4900,"life":44},{"country":"M11","year":1840,"gdp":5200,"life":41},{"country":"M11","year":1850,"gdp":5500,"life":46},{"country":"M11","year":1860,"gdp":5300,"life":36},{"country":"M11","year":1870,"gdp":5800,"life":44},{"country":"M11","year":1880,"gdp":6300,"life":49},{"country":"M11","year":1890,"gdp":7200,"life":54},{"country":"M11","year":1900,"gdp":8700,"life":60},{"country":"M11","year":1910,"gdp":11000,"life":66},{"country":"M11","year":1920,"gdp":14500,"life":71},{"country":"M11","year":1930,"gdp":20000,"life":76},{"country":"M11","year":1940,"gdp":28000,"life":79},{"country":"M11","year":1950,"gdp":38000,"life":82},
      {"country":"M12","year":1800,"gdp":800,"life":30},{"country":"M12","year":1810,"gdp":830,"life":35},{"country":"M12","year":1820,"gdp":860,"life":32},{"country":"M12","year":1830,"gdp":840,"life":38},{"country":"M12","year":1840,"gdp":900,"life":43},{"country":"M12","year":1850,"gdp":950,"life":39},{"country":"M12","year":1860,"gdp":1000,"life":45},{"country":"M12","year":1870,"gdp":1050,"life":49},{"country":"M12","year":1880,"gdp":1100,"life":46},{"country":"M12","year":1890,"gdp":1200,"life":51},{"country":"M12","year":1900,"gdp":1350,"life":55},{"country":"M12","year":1910,"gdp":1550,"life":59},{"country":"M12","year":1920,"gdp":1800,"life":62},{"country":"M12","year":1930,"gdp":2100,"life":65},
      {"country":"M13","year":1800,"gdp":950,"life":25},{"country":"M13","year":1810,"gdp":1000,"life":30},{"country":"M13","year":1820,"gdp":1050,"life":27},{"country":"M13","year":1830,"gdp":1100,"life":32},{"country":"M13","year":1840,"gdp":1150,"life":29},{"country":"M13","year":1850,"gdp":1200,"life":35},{"country":"M13","year":1860,"gdp":1300,"life":31},{"country":"M13","year":1870,"gdp":1350,"life":37},{"country":"M13","year":1880,"gdp":1450,"life":34},{"country":"M13","year":1890,"gdp":1500,"life":41},{"country":"M13","year":1900,"gdp":1650,"life":45},{"country":"M13","year":1910,"gdp":1900,"life":50},{"country":"M13","year":1920,"gdp":2300,"life":55},{"country":"M13","year":1930,"gdp":2800,"life":60},{"country":"M13","year":1940,"gdp":3400,"life":64},{"country":"M13","year":1950,"gdp":4100,"life":67},{"country":"M13","year":1960,"gdp":4800,"life":70},
      {"country":"M14","year":1800,"gdp":1250,"life":35},{"country":"M14","year":1810,"gdp":1300,"life":30},{"country":"M14","year":1820,"gdp":1380,"life":36},{"country":"M14","year":1830,"gdp":1350,"life":42},{"country":"M14","year":1840,"gdp":1480,"life":38},{"country":"M14","year":1850,"gdp":1550,"life":44},{"country":"M14","year":1860,"gdp":1500,"life":48},{"country":"M14","year":1870,"gdp":1700,"life":45},{"country":"M14","year":1880,"gdp":1900,"life":49},{"country":"M14","year":1890,"gdp":2200,"life":53},{"country":"M14","year":1900,"gdp":2700,"life":58},{"country":"M14","year":1910,"gdp":3400,"life":63},{"country":"M14","year":1920,"gdp":4400,"life":67},{"country":"M14","year":1930,"gdp":5700,"life":71},{"country":"M14","year":1940,"gdp":7300,"life":74},
      {"country":"M15","year":1800,"gdp":1550,"life":40},{"country":"M15","year":1810,"gdp":1650,"life":44},{"country":"M15","year":1820,"gdp":1700,"life":37},{"country":"M15","year":1830,"gdp":1800,"life":43},{"country":"M15","year":1840,"gdp":1900,"life":47},{"country":"M15","year":1850,"gdp":2000,"life":41},{"country":"M15","year":1860,"gdp":2150,"life":46},{"country":"M15","year":1870,"gdp":2300,"life":49},{"country":"M15","year":1880,"gdp":2600,"life":53},{"country":"M15","year":1890,"gdp":3000,"life":57},{"country":"M15","year":1900,"gdp":3600,"life":61},{"country":"M15","year":1910,"gdp":4400,"life":65},{"country":"M15","year":1920,"gdp":5500,"life":69},{"country":"M15","year":1930,"gdp":7000,"life":72},{"country":"M15","year":1940,"gdp":9000,"life":75},{"country":"M15","year":1950,"gdp":11500,"life":77},
      {"country":"M16","year":1800,"gdp":2400,"life":34},{"country":"M16","year":1810,"gdp":2500,"life":39},{"country":"M16","year":1820,"gdp":2650,"life":36},{"country":"M16","year":1830,"gdp":2750,"life":41},{"country":"M16","year":1840,"gdp":2900,"life":46},{"country":"M16","year":1850,"gdp":3050,"life":40},{"country":"M16","year":1860,"gdp":3200,"life":45},{"country":"M16","year":1870,"gdp":3400,"life":43},{"country":"M16","year":1880,"gdp":3700,"life":49},{"country":"M16","year":1890,"gdp":4200,"life":54},{"country":"M16","year":1900,"gdp":5000,"life":59},{"country":"M16","year":1910,"gdp":6200,"life":64},{"country":"M16","year":1920,"gdp":8000,"life":69},{"country":"M16","year":1930,"gdp":10500,"life":73},{"country":"M16","year":1940,"gdp":14000,"life":76},{"country":"M16","year":1950,"gdp":18000,"life":78},
      {"country":"M17","year":1800,"gdp":2900,"life":42},{"country":"M17","year":1810,"gdp":3000,"life":38},{"country":"M17","year":1820,"gdp":3150,"life":43},{"country":"M17","year":1830,"gdp":3300,"life":47},{"country":"M17","year":1840,"gdp":3450,"life":41},{"country":"M17","year":1850,"gdp":3700,"life":45},{"country":"M17","year":1860,"gdp":3900,"life":50},{"country":"M17","year":1870,"gdp":4300,"life":54},{"country":"M17","year":1880,"gdp":5000,"life":58},{"country":"M17","year":1890,"gdp":6000,"life":62},{"country":"M17","year":1900,"gdp":7500,"life":66},{"country":"M17","year":1910,"gdp":9500,"life":70},{"country":"M17","year":1920,"gdp":12500,"life":73},{"country":"M17","year":1930,"gdp":16000,"life":76},{"country":"M17","year":1940,"gdp":21000,"life":78},
      {"country":"M18","year":1800,"gdp":3400,"life":41},{"country":"M18","year":1810,"gdp":3500,"life":45},{"country":"M18","year":1820,"gdp":3700,"life":39},{"country":"M18","year":1830,"gdp":3850,"life":46},{"country":"M18","year":1840,"gdp":4000,"life":49},{"country":"M18","year":1850,"gdp":4300,"life":44},{"country":"M18","year":1860,"gdp":4600,"life":49},{"country":"M18","year":1870,"gdp":5000,"life":52},{"country":"M18","year":1880,"gdp":5700,"life":56},{"country":"M18","year":1890,"gdp":6700,"life":61},{"country":"M18","year":1900,"gdp":8200,"life":66},{"country":"M18","year":1910,"gdp":10500,"life":71},{"country":"M18","year":1920,"gdp":14000,"life":75},{"country":"M18","year":1930,"gdp":19000,"life":78},{"country":"M18","year":1940,"gdp":25000,"life":80},{"country":"M18","year":1950,"gdp":33000,"life":82},
      {"country":"M19","year":1800,"gdp":5000,"life":38},{"country":"M19","year":1810,"gdp":5200,"life":43},{"country":"M19","year":1820,"gdp":5400,"life":39},{"country":"M19","year":1830,"gdp":5700,"life":45},{"country":"M19","year":1840,"gdp":6000,"life":42},{"country":"M19","year":1850,"gdp":6300,"life":47},{"country":"M19","year":1860,"gdp":6700,"life":44},{"country":"M19","year":1870,"gdp":7200,"life":50},{"country":"M19","year":1880,"gdp":8000,"life":55},{"country":"M19","year":1890,"gdp":9500,"life":61},{"country":"M19","year":1900,"gdp":12000,"life":67},{"country":"M19","year":1910,"gdp":16000,"life":72},{"country":"M19","year":1920,"gdp":22000,"life":76},{"country":"M19","year":1930,"gdp":31000,"life":80},{"country":"M19","year":1940,"gdp":42000,"life":82},{"country":"M19","year":1950,"gdp":50000,"life":83},
      {"country":"M20","year":1800,"gdp":880,"life":42},{"country":"M20","year":1810,"gdp":920,"life":45},{"country":"M20","year":1820,"gdp":900,"life":40},{"country":"M20","year":1830,"gdp":980,"life":46},{"country":"M20","year":1840,"gdp":1050,"life":44},{"country":"M20","year":1850,"gdp":1100,"life":49},{"country":"M20","year":1860,"gdp":1200,"life":52},{"country":"M20","year":1870,"gdp":1350,"life":55},{"country":"M20","year":1880,"gdp":1500,"life":58},{"country":"M20","year":1890,"gdp":1700,"life":61},{"country":"M20","year":1900,"gdp":2000,"life":63},{"country":"M20","year":1910,"gdp":2400,"life":66},{"country":"M20","year":1920,"gdp":2900,"life":68},
      {"country":"M21","year":1800,"gdp":1050,"life":45},{"country":"M21","year":1810,"gdp":1100,"life":48},{"country":"M21","year":1820,"gdp":1200,"life":46},{"country":"M21","year":1830,"gdp":1300,"life":50},{"country":"M21","year":1840,"gdp":1450,"life":53},{"country":"M21","year":1850,"gdp":1600,"life":56},{"country":"M21","year":1860,"gdp":1800,"life":59},{"country":"M21","year":1870,"gdp":2100,"life":62},{"country":"M21","year":1880,"gdp":2500,"life":65},{"country":"M21","year":1890,"gdp":3000,"life":68},{"country":"M21","year":1900,"gdp":3700,"life":70},{"country":"M21","year":1910,"gdp":4600,"life":72},{"country":"M21","year":1920,"gdp":5700,"life":74},
      {"country":"M22","year":1800,"gdp":1800,"life":46},{"country":"M22","year":1810,"gdp":1900,"life":49},{"country":"M22","year":1820,"gdp":2100,"life":47},{"country":"M22","year":1830,"gdp":2300,"life":51},{"country":"M22","year":1840,"gdp":2600,"life":54},{"country":"M22","year":1850,"gdp":3000,"life":57},{"country":"M22","year":1860,"gdp":3500,"life":60},{"country":"M22","year":1870,"gdp":4100,"life":63},{"country":"M22","year":1880,"gdp":4800,"life":66},{"country":"M22","year":1890,"gdp":5800,"life":69},{"country":"M22","year":1900,"gdp":7200,"life":72},{"country":"M22","year":1910,"gdp":9000,"life":74},{"country":"M22","year":1920,"gdp":11500,"life":76},{"country":"M22","year":1930,"gdp":15000,"life":78},
      {"country":"M23","year":1800,"gdp":2500,"life":48},{"country":"M23","year":1810,"gdp":2700,"life":51},{"country":"M23","year":1820,"gdp":3000,"life":54},{"country":"M23","year":1830,"gdp":3400,"life":57},{"country":"M23","year":1840,"gdp":3900,"life":60},{"country":"M23","year":1850,"gdp":4500,"life":63},{"country":"M23","year":1860,"gdp":5300,"life":66},{"country":"M23","year":1870,"gdp":6300,"life":69},{"country":"M23","year":1880,"gdp":7600,"life":71},{"country":"M23","year":1890,"gdp":9300,"life":73},{"country":"M23","year":1900,"gdp":11500,"life":75},{"country":"M23","year":1910,"gdp":14500,"life":77},{"country":"M23","year":1920,"gdp":18500,"life":79},
      {"country":"M24","year":1800,"gdp":1300,"life":50},{"country":"M24","year":1810,"gdp":1450,"life":53},{"country":"M24","year":1820,"gdp":1600,"life":56},{"country":"M24","year":1830,"gdp":1800,"life":59},{"country":"M24","year":1840,"gdp":2050,"life":62},{"country":"M24","year":1850,"gdp":2350,"life":65},{"country":"M24","year":1860,"gdp":2700,"life":67},{"country":"M24","year":1870,"gdp":3200,"life":69},{"country":"M24","year":1880,"gdp":3800,"life":71},{"country":"M24","year":1890,"gdp":4600,"life":73},{"country":"M24","year":1900,"gdp":5600,"life":75},{"country":"M24","year":1910,"gdp":7000,"life":76},
      {"country":"M25","year":1800,"gdp":1100,"life":24},{"country":"M25","year":1810,"gdp":1150,"life":28},{"country":"M25","year":1820,"gdp":1200,"life":25.5},{"country":"M25","year":1830,"gdp":1280,"life":30},{"country":"M25","year":1840,"gdp":1350,"life":27},{"country":"M25","year":1850,"gdp":1450,"life":33},{"country":"M25","year":1860,"gdp":1400,"life":37},{"country":"M25","year":1870,"gdp":1550,"life":34},{"country":"M25","year":1880,"gdp":1650,"life":39},{"country":"M25","year":1890,"gdp":1800,"life":43},{"country":"M25","year":1900,"gdp":2100,"life":48},{"country":"M25","year":1910,"gdp":2500,"life":53},{"country":"M25","year":1920,"gdp":3000,"life":58},{"country":"M25","year":1930,"gdp":3700,"life":63},{"country":"M25","year":1940,"gdp":4500,"life":66},
      {"country":"M26","year":1800,"gdp":2000,"life":25},{"country":"M26","year":1810,"gdp":2100,"life":30},{"country":"M26","year":1820,"gdp":2200,"life":27},{"country":"M26","year":1830,"gdp":2400,"life":32},{"country":"M26","year":1840,"gdp":2600,"life":29},{"country":"M26","year":1850,"gdp":2800,"life":35},{"country":"M26","year":1860,"gdp":2700,"life":39},{"country":"M26","year":1870,"gdp":3000,"life":37},{"country":"M26","year":1880,"gdp":3300,"life":42},{"country":"M26","year":1890,"gdp":3800,"life":47},{"country":"M26","year":1900,"gdp":4500,"life":53},{"country":"M26","year":1910,"gdp":5600,"life":59},{"country":"M26","year":1920,"gdp":7200,"life":65},{"country":"M26","year":1930,"gdp":9500,"life":70},{"country":"M26","year":1940,"gdp":12500,"life":74},{"country":"M26","year":1950,"gdp":16500,"life":77},
      {"country":"M27","year":1800,"gdp":3000,"life":27},{"country":"M27","year":1810,"gdp":3200,"life":31},{"country":"M27","year":1820,"gdp":3400,"life":28},{"country":"M27","year":1830,"gdp":3600,"life":33},{"country":"M27","year":1840,"gdp":3900,"life":30},{"country":"M27","year":1850,"gdp":4200,"life":36},{"country":"M27","year":1860,"gdp":4100,"life":40},{"country":"M27","year":1870,"gdp":4500,"life":38},{"country":"M27","year":1880,"gdp":5000,"life":43},{"country":"M27","year":1890,"gdp":5700,"life":48},{"country":"M27","year":1900,"gdp":6800,"life":55},{"country":"M27","year":1910,"gdp":8500,"life":62},{"country":"M27","year":1920,"gdp":11000,"life":68},{"country":"M27","year":1930,"gdp":14500,"life":73},{"country":"M27","year":1940,"gdp":19500,"life":77},{"country":"M27","year":1950,"gdp":26000,"life":80},
      {"country":"M28","year":1800,"gdp":1500,"life":31},{"country":"M28","year":1810,"gdp":1600,"life":27},{"country":"M28","year":1820,"gdp":1750,"life":25},{"country":"M28","year":1830,"gdp":1900,"life":30},{"country":"M28","year":1840,"gdp":2100,"life":27},{"country":"M28","year":1850,"gdp":2300,"life":33},{"country":"M28","year":1860,"gdp":2200,"life":37},{"country":"M28","year":1870,"gdp":2500,"life":35},{"country":"M28","year":1880,"gdp":2800,"life":40},{"country":"M28","year":1890,"gdp":3200,"life":45},{"country":"M28","year":1900,"gdp":3800,"life":51},{"country":"M28","year":1910,"gdp":4600,"life":57},{"country":"M28","year":1920,"gdp":5800,"life":63},{"country":"M28","year":1930,"gdp":7500,"life":68},{"country":"M28","year":1940,"gdp":9800,"life":72},
      {"country":"M29","year":1800,"gdp":6000,"life":40},{"country":"M29","year":1810,"gdp":6300,"life":45},{"country":"M29","year":1820,"gdp":6600,"life":41},{"country":"M29","year":1830,"gdp":7000,"life":47},{"country":"M29","year":1840,"gdp":7400,"life":44},{"country":"M29","year":1850,"gdp":7900,"life":49},{"country":"M29","year":1860,"gdp":8500,"life":52},{"country":"M29","year":1870,"gdp":9500,"life":57},{"country":"M29","year":1880,"gdp":11000,"life":62},{"country":"M29","year":1890,"gdp":13500,"life":68},{"country":"M29","year":1900,"gdp":17000,"life":73},{"country":"M29","year":1910,"gdp":23000,"life":77},{"country":"M29","year":1920,"gdp":31000,"life":80},{"country":"M29","year":1930,"gdp":41000,"life":82},
      {"country":"M30","year":1800,"gdp":820,"life":37},{"country":"M30","year":1810,"gdp":860,"life":41},{"country":"M30","year":1820,"gdp":840,"life":45},{"country":"M30","year":1830,"gdp":900,"life":43},{"country":"M30","year":1840,"gdp":940,"life":48},{"country":"M30","year":1850,"gdp":1000,"life":46},{"country":"M30","year":1860,"gdp":1050,"life":51},{"country":"M30","year":1870,"gdp":1150,"life":54},{"country":"M30","year":1880,"gdp":1250,"life":57},{"country":"M30","year":1890,"gdp":1400,"life":60},{"country":"M30","year":1900,"gdp":1600,"life":62},{"country":"M30","year":1910,"gdp":1850,"life":64}
    ],
    "hl": [
      {"country":"China","continent":"Asia","year":1930,"gdp":1004,"life":32.1},{"country":"China","continent":"Asia","year":1935,"gdp":927,"life":34.2},{"country":"China","continent":"Asia","year":1940,"gdp":1066,"life":35.1},{"country":"China","continent":"Asia","year":1950,"gdp":800,"life":44.0},{"country":"China","continent":"Asia","year":1952,"gdp":1024,"life":45.4},{"country":"China","continent":"Asia","year":1953,"gdp":1154,"life":46.3},{"country":"China","continent":"Asia","year":1954,"gdp":1275,"life":46.1},{"country":"China","continent":"Asia","year":1955,"gdp":1225,"life":45.6},{"country":"China","continent":"Asia","year":1957,"gdp":1300,"life":46.8},{"country":"China","continent":"Asia","year":1959,"gdp":1177,"life":49.0},{"country":"China","continent":"Asia","year":1960,"gdp":1053,"life":35.1},{"country":"China","continent":"Asia","year":1961,"gdp":867,"life":41.1},{"country":"China","continent":"Asia","year":1962,"gdp":916,"life":51.1},{"country":"China","continent":"Asia","year":1964,"gdp":1066,"life":52.0},{"country":"China","continent":"Asia","year":1966,"gdp":1249,"life":53.1},{"country":"China","continent":"Asia","year":1967,"gdp":1240,"life":54.3},{"country":"China","continent":"Asia","year":1968,"gdp":1154,"life":55.3},{"country":"China","continent":"Asia","year":1970,"gdp":1397,"life":56.7},{"country":"China","continent":"Asia","year":1972,"gdp":1436,"life":57.9},{"country":"China","continent":"Asia","year":1973,"gdp":1419,"life":58.4},{"country":"China","continent":"Asia","year":1975,"gdp":1506,"life":60.1},{"country":"China","continent":"Asia","year":1976,"gdp":1494,"life":60.7},{"country":"China","continent":"Asia","year":1977,"gdp":1574,"life":61.2},{"country":"China","continent":"Asia","year":1978,"gdp":1506,"life":62.1},{"country":"China","continent":"Asia","year":1979,"gdp":1567,"life":62.7},{"country":"China","continent":"Asia","year":1981,"gdp":1738,"life":63.6},{"country":"China","continent":"Asia","year":1984,"gdp":1935,"life":64.8},{"country":"China","continent":"Asia","year":1987,"gdp":2207,"life":66.0},{"country":"China","continent":"Asia","year":1991,"gdp":2880,"life":67.4},{"country":"China","continent":"Asia","year":1994,"gdp":3656,"life":68.9},{"country":"China","continent":"Asia","year":1997,"gdp":4236,"life":70.7},{"country":"China","continent":"Asia","year":2000,"gdp":5230,"life":72.4},{"country":"China","continent":"Asia","year":2003,"gdp":6380,"life":74.1},{"country":"China","continent":"Asia","year":2006,"gdp":8197,"life":75.2},{"country":"China","continent":"Asia","year":2010,"gdp":9765,"life":76.0},{"country":"China","continent":"Asia","year":2014,"gdp":11818,"life":77.1},{"country":"China","continent":"Asia","year":2018,"gdp":13209,"life":78.1},
      {"country":"India","continent":"Asia","year":1891,"gdp":830,"life":24.5},{"country":"India","continent":"Asia","year":1895,"gdp":965,"life":23.6},{"country":"India","continent":"Asia","year":1898,"gdp":1024,"life":24.3},{"country":"India","continent":"Asia","year":1900,"gdp":1100,"life":23.4},{"country":"India","continent":"Asia","year":1905,"gdp":1079,"life":24.7},{"country":"India","continent":"Asia","year":1910,"gdp":1131,"life":29.3},{"country":"India","continent":"Asia","year":1915,"gdp":1100,"life":32.4},{"country":"India","continent":"Asia","year":1917,"gdp":1118,"life":34.0},{"country":"India","continent":"Asia","year":1918,"gdp":1057,"life":33.3},{"country":"India","continent":"Asia","year":1920,"gdp":984,"life":42.1},{"country":"India","continent":"Asia","year":1925,"gdp":1032,"life":42.3},{"country":"India","continent":"Asia","year":1930,"gdp":1057,"life":43.2},{"country":"India","continent":"Asia","year":1935,"gdp":1118,"life":44.6},{"country":"India","continent":"Asia","year":1940,"gdp":1145,"life":46.1},{"country":"India","continent":"Asia","year":1945,"gdp":1201,"life":46.5},{"country":"India","continent":"Asia","year":1948,"gdp":1249,"life":47.3},{"country":"India","continent":"Asia","year":1950,"gdp":1300,"life":47.5},{"country":"India","continent":"Asia","year":1952,"gdp":1275,"life":48.2},{"country":"India","continent":"Asia","year":1955,"gdp":1316,"life":50.4},{"country":"India","continent":"Asia","year":1957,"gdp":1425,"life":51.3},{"country":"India","continent":"Asia","year":1958,"gdp":1397,"life":52.0},{"country":"India","continent":"Asia","year":1960,"gdp":1536,"life":52.7},{"country":"India","continent":"Asia","year":1962,"gdp":1408,"life":53.4},{"country":"India","continent":"Asia","year":1965,"gdp":1524,"life":54.7},{"country":"India","continent":"Asia","year":1968,"gdp":1631,"life":55.6},{"country":"India","continent":"Asia","year":1972,"gdp":1809,"life":57.7},{"country":"India","continent":"Asia","year":1977,"gdp":2071,"life":59.3},{"country":"India","continent":"Asia","year":1983,"gdp":2457,"life":61.5},{"country":"India","continent":"Asia","year":1990,"gdp":2880,"life":63.8},{"country":"India","continent":"Asia","year":1995,"gdp":3514,"life":65.3},{"country":"India","continent":"Asia","year":2000,"gdp":4287,"life":66.7},{"country":"India","continent":"Asia","year":2005,"gdp":5026,"life":67.9},{"country":"India","continent":"Asia","year":2011,"gdp":5892,"life":69.5},{"country":"India","continent":"Asia","year":2018,"gdp":6908,"life":71.0},
      {"country":"United Kingdom","continent":"Europe","year":1803,"gdp":3220,"life":40.4},{"country":"United Kingdom","continent":"Europe","year":1806,"gdp":3156,"life":41.0},{"country":"United Kingdom","continent":"Europe","year":1809,"gdp":3378,"life":41.5},{"country":"United Kingdom","continent":"Europe","year":1812,"gdp":3542,"life":40.9},{"country":"United Kingdom","continent":"Europe","year":1815,"gdp":3730,"life":41.3},{"country":"United Kingdom","continent":"Europe","year":1818,"gdp":3928,"life":40.7},{"country":"United Kingdom","continent":"Europe","year":1821,"gdp":3851,"life":41.4},{"country":"United Kingdom","continent":"Europe","year":1824,"gdp":4219,"life":41.8},{"country":"United Kingdom","continent":"Europe","year":1827,"gdp":4321,"life":42.8},{"country":"United Kingdom","continent":"Europe","year":1830,"gdp":4186,"life":39.0},{"country":"United Kingdom","continent":"Europe","year":1833,"gdp":4356,"life":42.5},{"country":"United Kingdom","continent":"Europe","year":1836,"gdp":4408,"life":38.0},{"country":"United Kingdom","continent":"Europe","year":1839,"gdp":4497,"life":40.9},{"country":"United Kingdom","continent":"Europe","year":1842,"gdp":4735,"life":40.4},{"country":"United Kingdom","continent":"Europe","year":1845,"gdp":4869,"life":42.8},{"country":"United Kingdom","continent":"Europe","year":1848,"gdp":4735,"life":39.4},{"country":"United Kingdom","continent":"Europe","year":1851,"gdp":5026,"life":41.9},{"country":"United Kingdom","continent":"Europe","year":1854,"gdp":5188,"life":40.3},{"country":"United Kingdom","continent":"Europe","year":1857,"gdp":5356,"life":42.8},{"country":"United Kingdom","continent":"Europe","year":1860,"gdp":5485,"life":40.8},{"country":"United Kingdom","continent":"Europe","year":1863,"gdp":5708,"life":43.7},{"country":"United Kingdom","continent":"Europe","year":1866,"gdp":5823,"life":45.4},{"country":"United Kingdom","continent":"Europe","year":1869,"gdp":5963,"life":44.0},{"country":"United Kingdom","continent":"Europe","year":1872,"gdp":6131,"life":45.8},{"country":"United Kingdom","continent":"Europe","year":1875,"gdp":6380,"life":45.4},{"country":"United Kingdom","continent":"Europe","year":1878,"gdp":6457,"life":46.8},{"country":"United Kingdom","continent":"Europe","year":1881,"gdp":6692,"life":44.6},{"country":"United Kingdom","continent":"Europe","year":1884,"gdp":6772,"life":47.3},{"country":"United Kingdom","continent":"Europe","year":1887,"gdp":6963,"life":46.1},{"country":"United Kingdom","continent":"Europe","year":1890,"gdp":7189,"life":46.5},{"country":"United Kingdom","continent":"Europe","year":1893,"gdp":7510,"life":45.4},{"country":"United Kingdom","continent":"Europe","year":1896,"gdp":7570,"life":49.4},{"country":"United Kingdom","continent":"Europe","year":1899,"gdp":7421,"life":48.2},{"country":"United Kingdom","continent":"Europe","year":1902,"gdp":7722,"life":51.3},{"country":"United Kingdom","continent":"Europe","year":1905,"gdp":7631,"life":54.6},{"country":"United Kingdom","continent":"Europe","year":1908,"gdp":7877,"life":52.0},{"country":"United Kingdom","continent":"Europe","year":1911,"gdp":8004,"life":54.2},{"country":"United Kingdom","continent":"Europe","year":1915,"gdp":8596,"life":47.6},{"country":"United Kingdom","continent":"Europe","year":1916,"gdp":8665,"life":54.4},{"country":"United Kingdom","continent":"Europe","year":1919,"gdp":6772,"life":58.0},{"country":"United Kingdom","continent":"Europe","year":1922,"gdp":7392,"life":59.9},{"country":"United Kingdom","continent":"Europe","year":1924,"gdp":7846,"life":58.4},{"country":"United Kingdom","continent":"Europe","year":1926,"gdp":8004,"life":59.9},{"country":"United Kingdom","continent":"Europe","year":1928,"gdp":8330,"life":58.9},{"country":"United Kingdom","continent":"Europe","year":1930,"gdp":8498,"life":60.2},{"country":"United Kingdom","continent":"Europe","year":1932,"gdp":8769,"life":58.0},{"country":"United Kingdom","continent":"Europe","year":1934,"gdp":8199,"life":60.5},{"country":"United Kingdom","continent":"Europe","year":1936,"gdp":8562,"life":61.2},{"country":"United Kingdom","continent":"Europe","year":1938,"gdp":9200,"life":62.0},{"country":"United Kingdom","continent":"Europe","year":1940,"gdp":9921,"life":64.0},{"country":"United Kingdom","continent":"Europe","year":1941,"gdp":10080,"life":62.4},{"country":"United Kingdom","continent":"Europe","year":1942,"gdp":10530,"life":63.2},{"country":"United Kingdom","continent":"Europe","year":1943,"gdp":10910,"life":61.2},{"country":"United Kingdom","continent":"Europe","year":1944,"gdp":12010,"life":61.7},{"country":"United Kingdom","continent":"Europe","year":1945,"gdp":12300,"life":64.3},{"country":"United Kingdom","continent":"Europe","year":1946,"gdp":11580,"life":65.5},{"country":"United Kingdom","continent":"Europe","year":1947,"gdp":10530,"life":66.5},{"country":"United Kingdom","continent":"Europe","year":1948,"gdp":10610,"life":68.8},{"country":"United Kingdom","continent":"Europe","year":1949,"gdp":10910,"life":69.1},{"country":"United Kingdom","continent":"Europe","year":1950,"gdp":11180,"life":68.3},{"country":"United Kingdom","continent":"Europe","year":1951,"gdp":11220,"life":69.7},{"country":"United Kingdom","continent":"Europe","year":1953,"gdp":11820,"life":70.0},{"country":"United Kingdom","continent":"Europe","year":1956,"gdp":12540,"life":71.0},{"country":"United Kingdom","continent":"Europe","year":1960,"gdp":14140,"life":71.2},{"country":"United Kingdom","continent":"Europe","year":1964,"gdp":15000,"life":72.4},{"country":"United Kingdom","continent":"Europe","year":1967,"gdp":15860,"life":72.6},{"country":"United Kingdom","continent":"Europe","year":1970,"gdp":17380,"life":72.6},{"country":"United Kingdom","continent":"Europe","year":1973,"gdp":18970,"life":73.0},{"country":"United Kingdom","continent":"Europe","year":1977,"gdp":20380,"life":73.8},{"country":"United Kingdom","continent":"Europe","year":1981,"gdp":21980,"life":75.0},{"country":"United Kingdom","continent":"Europe","year":1986,"gdp":25460,"life":75.7},{"country":"United Kingdom","continent":"Europe","year":1988,"gdp":25660,"life":76.6},{"country":"United Kingdom","continent":"Europe","year":1992,"gdp":27350,"life":77.1},{"country":"United Kingdom","continent":"Europe","year":1995,"gdp":29500,"life":77.8},{"country":"United Kingdom","continent":"Europe","year":1998,"gdp":31310,"life":78.2},{"country":"United Kingdom","continent":"Europe","year":2001,"gdp":33100,"life":78.5},{"country":"United Kingdom","continent":"Europe","year":2005,"gdp":35700,"life":79.3},{"country":"United Kingdom","continent":"Europe","year":2010,"gdp":36710,"life":79.7},{"country":"United Kingdom","continent":"Europe","year":2018,"gdp":38200,"life":82.0},
      {"country":"United States","continent":"North America","year":1880,"gdp":6205,"life":39.5},{"country":"United States","continent":"North America","year":1890,"gdp":6560,"life":44.7},{"country":"United States","continent":"North America","year":1900,"gdp":7480,"life":47.1},{"country":"United States","continent":"North America","year":1905,"gdp":8665,"life":49.4},{"country":"United States","continent":"North America","year":1908,"gdp":9018,"life":51.1},{"country":"United States","continent":"North America","year":1909,"gdp":9960,"life":50.3},{"country":"United States","continent":"North America","year":1910,"gdp":8877,"life":52.2},{"country":"United States","continent":"North America","year":1912,"gdp":9881,"life":53.7},{"country":"United States","continent":"North America","year":1914,"gdp":9127,"life":55.1},{"country":"United States","continent":"North America","year":1916,"gdp":10080,"life":54.4},{"country":"United States","continent":"North America","year":1918,"gdp":10490,"life":47.6},{"country":"United States","continent":"North America","year":1919,"gdp":10360,"life":55.5},{"country":"United States","continent":"North America","year":1921,"gdp":9921,"life":55.8},{"country":"United States","continent":"North America","year":1922,"gdp":9649,"life":58.4},{"country":"United States","continent":"North America","year":1926,"gdp":11680,"life":58.6},{"country":"United States","continent":"North America","year":1929,"gdp":11180,"life":59.1},{"country":"United States","continent":"North America","year":1930,"gdp":10530,"life":60.7},{"country":"United States","continent":"North America","year":1931,"gdp":9649,"life":61.0},{"country":"United States","continent":"North America","year":1932,"gdp":8562,"life":60.8},{"country":"United States","continent":"North America","year":1933,"gdp":7940,"life":61.0},{"country":"United States","continent":"North America","year":1935,"gdp":9127,"life":61.5},{"country":"United States","continent":"North America","year":1937,"gdp":10530,"life":62.4},{"country":"United States","continent":"North America","year":1940,"gdp":11820,"life":63.6},{"country":"United States","continent":"North America","year":1943,"gdp":14540,"life":64.5},{"country":"United States","continent":"North America","year":1944,"gdp":16120,"life":64.5},{"country":"United States","continent":"North America","year":1945,"gdp":16840,"life":65.3},{"country":"United States","continent":"North America","year":1946,"gdp":15000,"life":66.5},{"country":"United States","continent":"North America","year":1947,"gdp":14250,"life":67.8},{"country":"United States","continent":"North America","year":1950,"gdp":15430,"life":68.1},{"country":"United States","continent":"North America","year":1953,"gdp":16570,"life":68.3},{"country":"United States","continent":"North America","year":1955,"gdp":16840,"life":69.3},{"country":"United States","continent":"North America","year":1960,"gdp":17880,"life":70.0},{"country":"United States","continent":"North America","year":1966,"gdp":23330,"life":70.3},{"country":"United States","continent":"North America","year":1970,"gdp":23990,"life":71.1},{"country":"United States","continent":"North America","year":1973,"gdp":26180,"life":71.6},{"country":"United States","continent":"North America","year":1976,"gdp":26810,"life":72.8},{"country":"United States","continent":"North America","year":1980,"gdp":29500,"life":73.8},{"country":"United States","continent":"North America","year":1983,"gdp":29850,"life":74.7},{"country":"United States","continent":"North America","year":1988,"gdp":34580,"life":75.0},{"country":"United States","continent":"North America","year":1991,"gdp":36710,"life":75.7},{"country":"United States","continent":"North America","year":1994,"gdp":39590,"life":76.0},{"country":"United States","continent":"North America","year":1997,"gdp":40710,"life":76.6},{"country":"United States","continent":"North America","year":2000,"gdp":44440,"life":76.9},{"country":"United States","continent":"North America","year":2005,"gdp":48680,"life":77.9},{"country":"United States","continent":"North America","year":2010,"gdp":50060,"life":79.2},{"country":"United States","continent":"North America","year":2012,"gdp":51470,"life":78.8},{"country":"United States","continent":"North America","year":2018,"gdp":55740,"life":79.3}
    ]
  },
  "encoding": {
    "x": {
      "field": "gdp",
      "type": "quantitative",
      "scale": {"type": "log", "domain": [790, 61000], "nice": false},
      "axis": {
        "values": [800, 900, 1000, 2000, 3000, 4000, 5000, 6000, 7000, 8000, 9000, 10000, 20000, 30000, 40000, 50000, 60000],
        "labelExpr": "indexof([1000, 2000, 5000, 10000, 20000, 50000], datum.value) >= 0 ? '$' + format(datum.value, ',') : ''",
        "labelOverlap": false,
        "labelFlush": false,
        "labelPadding": 39,
        "labelBaseline": "alphabetic",
        "title": "GDP per capita",
        "titleFontSize": 25.5,
        "titleX": 483,
        "titleY": 77,
        "titleBaseline": "alphabetic",
        "titleAlign": "center"
      }
    },
    "y": {
      "field": "life",
      "type": "quantitative",
      "scale": {"domain": [23.3, 89.9], "nice": false, "zero": false},
      "axis": {
        "values": [30, 40, 50, 60, 70, 80],
        "labelExpr": "datum.value + ' years'",
        "labelPadding": 9,
        "labelBaseline": "middle",
        "title": "Life expectancy at birth",
        "titleX": -145,
        "titleY": 386,
        "titleAngle": 270,
        "titleAlign": "center",
        "titleBaseline": "middle"
      }
    }
  },
  "layer": [
    {
      "data": {"name": "gray"},
      "mark": {"type": "line", "stroke": "#cdcdcd", "strokeWidth": 1, "opacity": 0.8, "clip": true},
      "encoding": {
        "detail": {"field": "country"},
        "order": {"field": "year", "type": "quantitative"}
      }
    },
    {
      "data": {"name": "gray"},
      "transform": [
        {"window": [{"op": "row_number", "as": "rn"}], "groupby": ["country"], "sort": [{"field": "year", "order": "ascending"}]},
        {"filter": "datum.rn == 1"}
      ],
      "mark": {"type": "point", "filled": true, "size": 12, "color": "#c2c2c2", "opacity": 1, "clip": true}
    },
    {
      "data": {"name": "gray"},
      "transform": [
        {"window": [{"op": "row_number", "as": "rn"}, {"op": "lead", "field": "gdp", "as": "pg"}, {"op": "lead", "field": "life", "as": "pl"}], "groupby": ["country"], "sort": [{"field": "year", "order": "descending"}]},
        {"filter": "datum.rn == 1"}
      ],
      "mark": {
        "type": "point", "shape": "triangle-right", "filled": true, "size": 28, "color": "#c2c2c2", "opacity": 1, "clip": true,
        "angle": {"expr": "atan2(scale('y', datum.life) - scale('y', datum.pl), scale('x', datum.gdp) - scale('x', datum.pg)) * 180 / PI"}
      }
    },
    {
      "data": {"name": "hl"},
      "mark": {"type": "line", "strokeWidth": 3.6, "clip": true, "strokeJoin": "miter"},
      "encoding": {
        "detail": {"field": "country"},
        "order": {"field": "year", "type": "quantitative"},
        "color": {
          "field": "continent", "type": "nominal",
          "scale": {"domain": ["Africa", "Asia", "Europe", "North America", "Oceania", "South America"], "range": ["#cccccc", "#16897d", "#4f6ea8", "#e8755d", "#cccccc", "#cccccc"]},
          "legend": null
        }
      }
    },
    {
      "data": {"name": "hl"},
      "transform": [
        {"window": [{"op": "row_number", "as": "rn"}], "groupby": ["country"], "sort": [{"field": "year", "order": "ascending"}]},
        {"filter": "datum.rn == 1"}
      ],
      "mark": {"type": "point", "filled": true, "size": 55, "opacity": 1},
      "encoding": {
        "color": {
          "field": "continent", "type": "nominal",
          "scale": {"domain": ["Africa", "Asia", "Europe", "North America", "Oceania", "South America"], "range": ["#cccccc", "#16897d", "#4f6ea8", "#e8755d", "#cccccc", "#cccccc"]},
          "legend": {
            "title": null,
            "orient": "none",
            "legendX": 1123,
            "legendY": 5,
            "padding": 0,
            "symbolType": "square",
            "symbolSize": 180,
            "symbolStrokeWidth": 0,
            "symbolOpacity": 1,
            "labelFont": "Liberation Sans",
            "labelFontSize": 23,
            "labelOffset": 8,
            "labelLimit": 300,
            "rowPadding": 7.4,
            "labelColor": {"expr": "indexof(['Asia', 'Europe', 'North America'], datum.label) >= 0 ? '#1a1a1a' : '#c9c9c9'"}
          }
        }
      }
    },
    {
      "data": {"name": "hl"},
      "transform": [
        {"window": [{"op": "row_number", "as": "rn"}, {"op": "lead", "field": "gdp", "as": "pg"}, {"op": "lead", "field": "life", "as": "pl"}], "groupby": ["country"], "sort": [{"field": "year", "order": "descending"}]},
        {"filter": "datum.rn == 1"}
      ],
      "mark": {
        "type": "point", "shape": "triangle-right", "filled": true, "size": 190, "opacity": 1,
        "angle": {"expr": "atan2(scale('y', datum.life) - scale('y', datum.pl), scale('x', datum.gdp) - scale('x', datum.pg)) * 180 / PI"}
      },
      "encoding": {
        "color": {"field": "continent", "type": "nominal", "scale": {"domain": ["Africa", "Asia", "Europe", "North America", "Oceania", "South America"], "range": ["#cccccc", "#16897d", "#4f6ea8", "#e8755d", "#cccccc", "#cccccc"]}, "legend": null}
      }
    },
    {
      "data": {"name": "hl"},
      "transform": [
        {"filter": "datum.country == 'China'"},
        {"window": [{"op": "row_number", "as": "rn"}], "sort": [{"field": "year", "order": "ascending"}]},
        {"filter": "datum.rn == 1"}
      ],
      "mark": {"type": "text", "align": "left", "baseline": "middle", "dx": 7, "dy": 9, "fontSize": 13},
      "encoding": {
        "text": {"field": "year", "type": "nominal"},
        "color": {"field": "continent", "type": "nominal", "scale": {"domain": ["Africa", "Asia", "Europe", "North America", "Oceania", "South America"], "range": ["#cccccc", "#16897d", "#4f6ea8", "#e8755d", "#cccccc", "#cccccc"]}, "legend": null}
      }
    },
    {
      "data": {"name": "hl"},
      "transform": [
        {"filter": "datum.country == 'India'"},
        {"window": [{"op": "row_number", "as": "rn"}], "sort": [{"field": "year", "order": "ascending"}]},
        {"filter": "datum.rn == 1"}
      ],
      "mark": {"type": "text", "align": "left", "baseline": "middle", "dx": -4, "dy": -6, "fontSize": 13},
      "encoding": {
        "text": {"field": "year", "type": "nominal"},
        "color": {"field": "continent", "type": "nominal", "scale": {"domain": ["Africa", "Asia", "Europe", "North America", "Oceania", "South America"], "range": ["#cccccc", "#16897d", "#4f6ea8", "#e8755d", "#cccccc", "#cccccc"]}, "legend": null}
      }
    },
    {
      "data": {"name": "hl"},
      "transform": [
        {"filter": "datum.country == 'United Kingdom'"},
        {"window": [{"op": "row_number", "as": "rn"}], "sort": [{"field": "year", "order": "ascending"}]},
        {"filter": "datum.rn == 1"}
      ],
      "mark": {"type": "text", "align": "left", "baseline": "middle", "dx": 2, "dy": 14, "fontSize": 13},
      "encoding": {
        "text": {"field": "year", "type": "nominal"},
        "color": {"field": "continent", "type": "nominal", "scale": {"domain": ["Africa", "Asia", "Europe", "North America", "Oceania", "South America"], "range": ["#cccccc", "#16897d", "#4f6ea8", "#e8755d", "#cccccc", "#cccccc"]}, "legend": null}
      }
    },
    {
      "data": {"name": "hl"},
      "transform": [
        {"filter": "datum.country == 'United States'"},
        {"window": [{"op": "row_number", "as": "rn"}], "sort": [{"field": "year", "order": "ascending"}]},
        {"filter": "datum.rn == 1"}
      ],
      "mark": {"type": "text", "align": "right", "baseline": "middle", "dx": 2, "dy": 13, "fontSize": 13},
      "encoding": {
        "text": {"field": "year", "type": "nominal"},
        "color": {"field": "continent", "type": "nominal", "scale": {"domain": ["Africa", "Asia", "Europe", "North America", "Oceania", "South America"], "range": ["#cccccc", "#16897d", "#4f6ea8", "#e8755d", "#cccccc", "#cccccc"]}, "legend": null}
      }
    },
    {
      "data": {"name": "hl"},
      "transform": [
        {"filter": "datum.country == 'China' || datum.country == 'India'"},
        {"window": [{"op": "row_number", "as": "rn"}], "groupby": ["country"], "sort": [{"field": "year", "order": "descending"}]},
        {"filter": "datum.rn == 1"}
      ],
      "mark": {"type": "text", "align": "left", "baseline": "middle", "dx": 3, "dy": -11, "fontSize": 28, "fontWeight": "bold", "stroke": "white", "strokeWidth": 5, "strokeJoin": "round", "fill": "white"},
      "encoding": {"text": {"field": "country", "type": "nominal"}}
    },
    {
      "data": {"name": "hl"},
      "transform": [
        {"filter": "datum.country == 'China' || datum.country == 'India'"},
        {"window": [{"op": "row_number", "as": "rn"}], "groupby": ["country"], "sort": [{"field": "year", "order": "descending"}]},
        {"filter": "datum.rn == 1"}
      ],
      "mark": {"type": "text", "align": "left", "baseline": "middle", "dx": 3, "dy": -11, "fontSize": 28, "fontWeight": "bold"},
      "encoding": {
        "text": {"field": "country", "type": "nominal"},
        "color": {"field": "continent", "type": "nominal", "scale": {"domain": ["Africa", "Asia", "Europe", "North America", "Oceania", "South America"], "range": ["#cccccc", "#16897d", "#4f6ea8", "#e8755d", "#cccccc", "#cccccc"]}, "legend": null}
      }
    },
    {
      "data": {"name": "hl"},
      "transform": [
        {"filter": "datum.country == 'United States'"},
        {"window": [{"op": "row_number", "as": "rn"}], "sort": [{"field": "year", "order": "descending"}]},
        {"filter": "datum.rn == 1"}
      ],
      "mark": {"type": "text", "align": "right", "baseline": "middle", "dx": 17, "dy": -12, "fontSize": 25, "fontWeight": "bold", "stroke": "white", "strokeWidth": 5, "strokeJoin": "round", "fill": "white"},
      "encoding": {"text": {"field": "country", "type": "nominal"}}
    },
    {
      "data": {"name": "hl"},
      "transform": [
        {"filter": "datum.country == 'United States'"},
        {"window": [{"op": "row_number", "as": "rn"}], "sort": [{"field": "year", "order": "descending"}]},
        {"filter": "datum.rn == 1"}
      ],
      "mark": {"type": "text", "align": "right", "baseline": "middle", "dx": 17, "dy": -12, "fontSize": 25, "fontWeight": "bold"},
      "encoding": {
        "text": {"field": "country", "type": "nominal"},
        "color": {"field": "continent", "type": "nominal", "scale": {"domain": ["Africa", "Asia", "Europe", "North America", "Oceania", "South America"], "range": ["#cccccc", "#16897d", "#4f6ea8", "#e8755d", "#cccccc", "#cccccc"]}, "legend": null}
      }
    }
  ]
}
